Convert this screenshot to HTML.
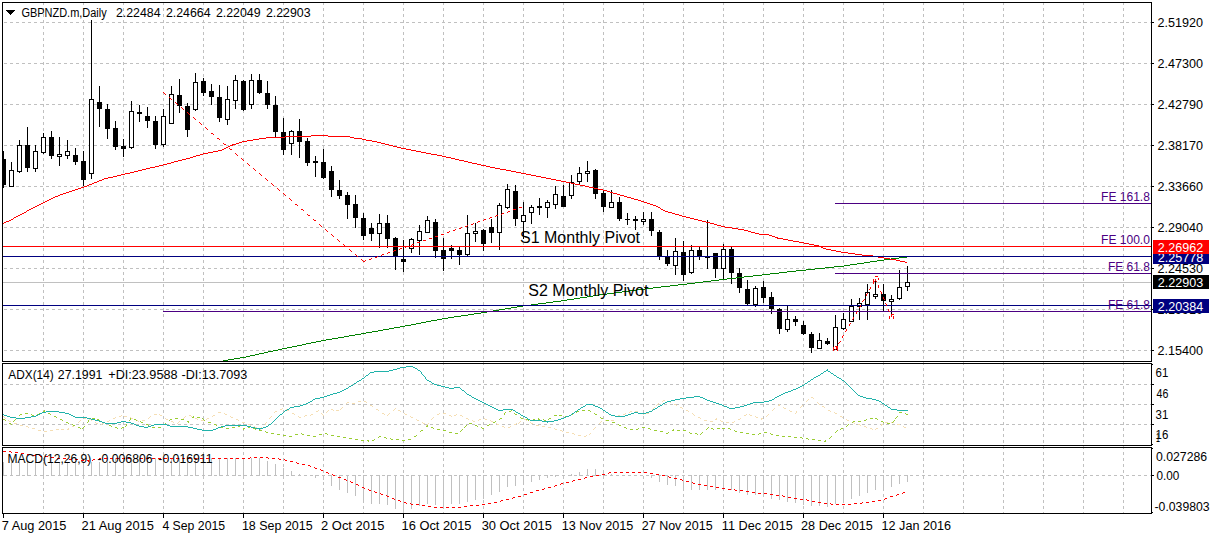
<!DOCTYPE html>
<html><head><meta charset="utf-8"><title>GBPNZD.m Daily</title>
<style>
html,body{margin:0;padding:0;background:#fff;}
body{width:1211px;height:538px;overflow:hidden;}
svg{display:block;font-family:"Liberation Sans",sans-serif;}
</style></head><body>
<svg width="1211" height="538" viewBox="0 0 1211 538" shape-rendering="crispEdges">
<rect x="0" y="0" width="1211" height="538" fill="#fff"/>
<g id="grid">
<line x1="43.5" y1="2" x2="43.5" y2="362" stroke="#c0c0c0" stroke-width="1" stroke-dasharray="3 3"/>
<line x1="43.5" y1="362" x2="43.5" y2="446" stroke="#c0c0c0" stroke-width="1" stroke-dasharray="3 3"/>
<line x1="43.5" y1="446" x2="43.5" y2="513" stroke="#c0c0c0" stroke-width="1" stroke-dasharray="3 3"/>
<line x1="83.5" y1="2" x2="83.5" y2="362" stroke="#c0c0c0" stroke-width="1" stroke-dasharray="3 3"/>
<line x1="83.5" y1="362" x2="83.5" y2="446" stroke="#c0c0c0" stroke-width="1" stroke-dasharray="3 3"/>
<line x1="83.5" y1="446" x2="83.5" y2="513" stroke="#c0c0c0" stroke-width="1" stroke-dasharray="3 3"/>
<line x1="123.5" y1="2" x2="123.5" y2="362" stroke="#c0c0c0" stroke-width="1" stroke-dasharray="3 3"/>
<line x1="123.5" y1="362" x2="123.5" y2="446" stroke="#c0c0c0" stroke-width="1" stroke-dasharray="3 3"/>
<line x1="123.5" y1="446" x2="123.5" y2="513" stroke="#c0c0c0" stroke-width="1" stroke-dasharray="3 3"/>
<line x1="163.5" y1="2" x2="163.5" y2="362" stroke="#c0c0c0" stroke-width="1" stroke-dasharray="3 3"/>
<line x1="163.5" y1="362" x2="163.5" y2="446" stroke="#c0c0c0" stroke-width="1" stroke-dasharray="3 3"/>
<line x1="163.5" y1="446" x2="163.5" y2="513" stroke="#c0c0c0" stroke-width="1" stroke-dasharray="3 3"/>
<line x1="203.5" y1="2" x2="203.5" y2="362" stroke="#c0c0c0" stroke-width="1" stroke-dasharray="3 3"/>
<line x1="203.5" y1="362" x2="203.5" y2="446" stroke="#c0c0c0" stroke-width="1" stroke-dasharray="3 3"/>
<line x1="203.5" y1="446" x2="203.5" y2="513" stroke="#c0c0c0" stroke-width="1" stroke-dasharray="3 3"/>
<line x1="243.5" y1="2" x2="243.5" y2="362" stroke="#c0c0c0" stroke-width="1" stroke-dasharray="3 3"/>
<line x1="243.5" y1="362" x2="243.5" y2="446" stroke="#c0c0c0" stroke-width="1" stroke-dasharray="3 3"/>
<line x1="243.5" y1="446" x2="243.5" y2="513" stroke="#c0c0c0" stroke-width="1" stroke-dasharray="3 3"/>
<line x1="283.5" y1="2" x2="283.5" y2="362" stroke="#c0c0c0" stroke-width="1" stroke-dasharray="3 3"/>
<line x1="283.5" y1="362" x2="283.5" y2="446" stroke="#c0c0c0" stroke-width="1" stroke-dasharray="3 3"/>
<line x1="283.5" y1="446" x2="283.5" y2="513" stroke="#c0c0c0" stroke-width="1" stroke-dasharray="3 3"/>
<line x1="323.5" y1="2" x2="323.5" y2="362" stroke="#c0c0c0" stroke-width="1" stroke-dasharray="3 3"/>
<line x1="323.5" y1="362" x2="323.5" y2="446" stroke="#c0c0c0" stroke-width="1" stroke-dasharray="3 3"/>
<line x1="323.5" y1="446" x2="323.5" y2="513" stroke="#c0c0c0" stroke-width="1" stroke-dasharray="3 3"/>
<line x1="363.5" y1="2" x2="363.5" y2="362" stroke="#c0c0c0" stroke-width="1" stroke-dasharray="3 3"/>
<line x1="363.5" y1="362" x2="363.5" y2="446" stroke="#c0c0c0" stroke-width="1" stroke-dasharray="3 3"/>
<line x1="363.5" y1="446" x2="363.5" y2="513" stroke="#c0c0c0" stroke-width="1" stroke-dasharray="3 3"/>
<line x1="403.5" y1="2" x2="403.5" y2="362" stroke="#c0c0c0" stroke-width="1" stroke-dasharray="3 3"/>
<line x1="403.5" y1="362" x2="403.5" y2="446" stroke="#c0c0c0" stroke-width="1" stroke-dasharray="3 3"/>
<line x1="403.5" y1="446" x2="403.5" y2="513" stroke="#c0c0c0" stroke-width="1" stroke-dasharray="3 3"/>
<line x1="443.5" y1="2" x2="443.5" y2="362" stroke="#c0c0c0" stroke-width="1" stroke-dasharray="3 3"/>
<line x1="443.5" y1="362" x2="443.5" y2="446" stroke="#c0c0c0" stroke-width="1" stroke-dasharray="3 3"/>
<line x1="443.5" y1="446" x2="443.5" y2="513" stroke="#c0c0c0" stroke-width="1" stroke-dasharray="3 3"/>
<line x1="483.5" y1="2" x2="483.5" y2="362" stroke="#c0c0c0" stroke-width="1" stroke-dasharray="3 3"/>
<line x1="483.5" y1="362" x2="483.5" y2="446" stroke="#c0c0c0" stroke-width="1" stroke-dasharray="3 3"/>
<line x1="483.5" y1="446" x2="483.5" y2="513" stroke="#c0c0c0" stroke-width="1" stroke-dasharray="3 3"/>
<line x1="523.5" y1="2" x2="523.5" y2="362" stroke="#c0c0c0" stroke-width="1" stroke-dasharray="3 3"/>
<line x1="523.5" y1="362" x2="523.5" y2="446" stroke="#c0c0c0" stroke-width="1" stroke-dasharray="3 3"/>
<line x1="523.5" y1="446" x2="523.5" y2="513" stroke="#c0c0c0" stroke-width="1" stroke-dasharray="3 3"/>
<line x1="563.5" y1="2" x2="563.5" y2="362" stroke="#c0c0c0" stroke-width="1" stroke-dasharray="3 3"/>
<line x1="563.5" y1="362" x2="563.5" y2="446" stroke="#c0c0c0" stroke-width="1" stroke-dasharray="3 3"/>
<line x1="563.5" y1="446" x2="563.5" y2="513" stroke="#c0c0c0" stroke-width="1" stroke-dasharray="3 3"/>
<line x1="603.5" y1="2" x2="603.5" y2="362" stroke="#c0c0c0" stroke-width="1" stroke-dasharray="3 3"/>
<line x1="603.5" y1="362" x2="603.5" y2="446" stroke="#c0c0c0" stroke-width="1" stroke-dasharray="3 3"/>
<line x1="603.5" y1="446" x2="603.5" y2="513" stroke="#c0c0c0" stroke-width="1" stroke-dasharray="3 3"/>
<line x1="643.5" y1="2" x2="643.5" y2="362" stroke="#c0c0c0" stroke-width="1" stroke-dasharray="3 3"/>
<line x1="643.5" y1="362" x2="643.5" y2="446" stroke="#c0c0c0" stroke-width="1" stroke-dasharray="3 3"/>
<line x1="643.5" y1="446" x2="643.5" y2="513" stroke="#c0c0c0" stroke-width="1" stroke-dasharray="3 3"/>
<line x1="683.5" y1="2" x2="683.5" y2="362" stroke="#c0c0c0" stroke-width="1" stroke-dasharray="3 3"/>
<line x1="683.5" y1="362" x2="683.5" y2="446" stroke="#c0c0c0" stroke-width="1" stroke-dasharray="3 3"/>
<line x1="683.5" y1="446" x2="683.5" y2="513" stroke="#c0c0c0" stroke-width="1" stroke-dasharray="3 3"/>
<line x1="723.5" y1="2" x2="723.5" y2="362" stroke="#c0c0c0" stroke-width="1" stroke-dasharray="3 3"/>
<line x1="723.5" y1="362" x2="723.5" y2="446" stroke="#c0c0c0" stroke-width="1" stroke-dasharray="3 3"/>
<line x1="723.5" y1="446" x2="723.5" y2="513" stroke="#c0c0c0" stroke-width="1" stroke-dasharray="3 3"/>
<line x1="763.5" y1="2" x2="763.5" y2="362" stroke="#c0c0c0" stroke-width="1" stroke-dasharray="3 3"/>
<line x1="763.5" y1="362" x2="763.5" y2="446" stroke="#c0c0c0" stroke-width="1" stroke-dasharray="3 3"/>
<line x1="763.5" y1="446" x2="763.5" y2="513" stroke="#c0c0c0" stroke-width="1" stroke-dasharray="3 3"/>
<line x1="803.5" y1="2" x2="803.5" y2="362" stroke="#c0c0c0" stroke-width="1" stroke-dasharray="3 3"/>
<line x1="803.5" y1="362" x2="803.5" y2="446" stroke="#c0c0c0" stroke-width="1" stroke-dasharray="3 3"/>
<line x1="803.5" y1="446" x2="803.5" y2="513" stroke="#c0c0c0" stroke-width="1" stroke-dasharray="3 3"/>
<line x1="843.5" y1="2" x2="843.5" y2="362" stroke="#c0c0c0" stroke-width="1" stroke-dasharray="3 3"/>
<line x1="843.5" y1="362" x2="843.5" y2="446" stroke="#c0c0c0" stroke-width="1" stroke-dasharray="3 3"/>
<line x1="843.5" y1="446" x2="843.5" y2="513" stroke="#c0c0c0" stroke-width="1" stroke-dasharray="3 3"/>
<line x1="883.5" y1="2" x2="883.5" y2="362" stroke="#c0c0c0" stroke-width="1" stroke-dasharray="3 3"/>
<line x1="883.5" y1="362" x2="883.5" y2="446" stroke="#c0c0c0" stroke-width="1" stroke-dasharray="3 3"/>
<line x1="883.5" y1="446" x2="883.5" y2="513" stroke="#c0c0c0" stroke-width="1" stroke-dasharray="3 3"/>
<line x1="923.5" y1="2" x2="923.5" y2="362" stroke="#c0c0c0" stroke-width="1" stroke-dasharray="3 3"/>
<line x1="923.5" y1="362" x2="923.5" y2="446" stroke="#c0c0c0" stroke-width="1" stroke-dasharray="3 3"/>
<line x1="923.5" y1="446" x2="923.5" y2="513" stroke="#c0c0c0" stroke-width="1" stroke-dasharray="3 3"/>
<line x1="963.5" y1="2" x2="963.5" y2="362" stroke="#c0c0c0" stroke-width="1" stroke-dasharray="3 3"/>
<line x1="963.5" y1="362" x2="963.5" y2="446" stroke="#c0c0c0" stroke-width="1" stroke-dasharray="3 3"/>
<line x1="963.5" y1="446" x2="963.5" y2="513" stroke="#c0c0c0" stroke-width="1" stroke-dasharray="3 3"/>
<line x1="1003.5" y1="2" x2="1003.5" y2="362" stroke="#c0c0c0" stroke-width="1" stroke-dasharray="3 3"/>
<line x1="1003.5" y1="362" x2="1003.5" y2="446" stroke="#c0c0c0" stroke-width="1" stroke-dasharray="3 3"/>
<line x1="1003.5" y1="446" x2="1003.5" y2="513" stroke="#c0c0c0" stroke-width="1" stroke-dasharray="3 3"/>
<line x1="1043.5" y1="2" x2="1043.5" y2="362" stroke="#c0c0c0" stroke-width="1" stroke-dasharray="3 3"/>
<line x1="1043.5" y1="362" x2="1043.5" y2="446" stroke="#c0c0c0" stroke-width="1" stroke-dasharray="3 3"/>
<line x1="1043.5" y1="446" x2="1043.5" y2="513" stroke="#c0c0c0" stroke-width="1" stroke-dasharray="3 3"/>
<line x1="1083.5" y1="2" x2="1083.5" y2="362" stroke="#c0c0c0" stroke-width="1" stroke-dasharray="3 3"/>
<line x1="1083.5" y1="362" x2="1083.5" y2="446" stroke="#c0c0c0" stroke-width="1" stroke-dasharray="3 3"/>
<line x1="1083.5" y1="446" x2="1083.5" y2="513" stroke="#c0c0c0" stroke-width="1" stroke-dasharray="3 3"/>
<line x1="1123.5" y1="2" x2="1123.5" y2="362" stroke="#c0c0c0" stroke-width="1" stroke-dasharray="3 3"/>
<line x1="1123.5" y1="362" x2="1123.5" y2="446" stroke="#c0c0c0" stroke-width="1" stroke-dasharray="3 3"/>
<line x1="1123.5" y1="446" x2="1123.5" y2="513" stroke="#c0c0c0" stroke-width="1" stroke-dasharray="3 3"/>
<line x1="4" y1="22.5" x2="1151" y2="22.5" stroke="#c0c0c0" stroke-width="1" stroke-dasharray="3 3"/>
<line x1="4" y1="63.5" x2="1151" y2="63.5" stroke="#c0c0c0" stroke-width="1" stroke-dasharray="3 3"/>
<line x1="4" y1="104.5" x2="1151" y2="104.5" stroke="#c0c0c0" stroke-width="1" stroke-dasharray="3 3"/>
<line x1="4" y1="145.5" x2="1151" y2="145.5" stroke="#c0c0c0" stroke-width="1" stroke-dasharray="3 3"/>
<line x1="4" y1="186.5" x2="1151" y2="186.5" stroke="#c0c0c0" stroke-width="1" stroke-dasharray="3 3"/>
<line x1="4" y1="227.5" x2="1151" y2="227.5" stroke="#c0c0c0" stroke-width="1" stroke-dasharray="3 3"/>
<line x1="4" y1="268.5" x2="1151" y2="268.5" stroke="#c0c0c0" stroke-width="1" stroke-dasharray="3 3"/>
<line x1="4" y1="309.5" x2="1151" y2="309.5" stroke="#c0c0c0" stroke-width="1" stroke-dasharray="3 3"/>
<line x1="4" y1="350.5" x2="1151" y2="350.5" stroke="#c0c0c0" stroke-width="1" stroke-dasharray="3 3"/>
<line x1="4" y1="384.5" x2="1151" y2="384.5" stroke="#c0c0c0" stroke-width="1" stroke-dasharray="3 3"/>
<line x1="4" y1="404.5" x2="1151" y2="404.5" stroke="#c0c0c0" stroke-width="1" stroke-dasharray="3 3"/>
<line x1="4" y1="424.5" x2="1151" y2="424.5" stroke="#c0c0c0" stroke-width="1" stroke-dasharray="3 3"/>
<line x1="4" y1="475.5" x2="1151" y2="475.5" stroke="#c0c0c0" stroke-width="1" stroke-dasharray="3 3"/>
</g>
<g id="hist">
<rect x="3" y="462" width="1" height="14" fill="#c0c0c0"/>
<rect x="11" y="462" width="1" height="14" fill="#c0c0c0"/>
<rect x="19" y="462" width="1" height="14" fill="#c0c0c0"/>
<rect x="27" y="462" width="1" height="14" fill="#c0c0c0"/>
<rect x="35" y="462" width="1" height="14" fill="#c0c0c0"/>
<rect x="43" y="462" width="1" height="14" fill="#c0c0c0"/>
<rect x="51" y="462" width="1" height="14" fill="#c0c0c0"/>
<rect x="59" y="462" width="1" height="14" fill="#c0c0c0"/>
<rect x="67" y="462" width="1" height="14" fill="#c0c0c0"/>
<rect x="75" y="462" width="1" height="14" fill="#c0c0c0"/>
<rect x="83" y="462" width="1" height="14" fill="#c0c0c0"/>
<rect x="91" y="462" width="1" height="14" fill="#c0c0c0"/>
<rect x="99" y="462" width="1" height="14" fill="#c0c0c0"/>
<rect x="107" y="462" width="1" height="14" fill="#c0c0c0"/>
<rect x="115" y="458" width="1" height="18" fill="#c0c0c0"/>
<rect x="123" y="458" width="1" height="18" fill="#c0c0c0"/>
<rect x="131" y="458" width="1" height="18" fill="#c0c0c0"/>
<rect x="139" y="458" width="1" height="18" fill="#c0c0c0"/>
<rect x="147" y="458" width="1" height="18" fill="#c0c0c0"/>
<rect x="155" y="458" width="1" height="18" fill="#c0c0c0"/>
<rect x="163" y="458" width="1" height="18" fill="#c0c0c0"/>
<rect x="171" y="458" width="1" height="18" fill="#c0c0c0"/>
<rect x="179" y="458" width="1" height="18" fill="#c0c0c0"/>
<rect x="187" y="458" width="1" height="18" fill="#c0c0c0"/>
<rect x="195" y="458" width="1" height="18" fill="#c0c0c0"/>
<rect x="203" y="458" width="1" height="18" fill="#c0c0c0"/>
<rect x="211" y="458" width="1" height="18" fill="#c0c0c0"/>
<rect x="219" y="458" width="1" height="18" fill="#c0c0c0"/>
<rect x="227" y="458" width="1" height="18" fill="#c0c0c0"/>
<rect x="235" y="458" width="1" height="18" fill="#c0c0c0"/>
<rect x="243" y="458" width="1" height="18" fill="#c0c0c0"/>
<rect x="251" y="458" width="1" height="18" fill="#c0c0c0"/>
<rect x="259" y="458" width="1" height="18" fill="#c0c0c0"/>
<rect x="267" y="461" width="1" height="15" fill="#c0c0c0"/>
<rect x="275" y="464" width="1" height="12" fill="#c0c0c0"/>
<rect x="283" y="468" width="1" height="8" fill="#c0c0c0"/>
<rect x="291" y="471" width="1" height="5" fill="#c0c0c0"/>
<rect x="299" y="474" width="1" height="2" fill="#c0c0c0"/>
<rect x="315" y="475" width="1" height="3" fill="#c0c0c0"/>
<rect x="323" y="475" width="1" height="5" fill="#c0c0c0"/>
<rect x="331" y="475" width="1" height="11" fill="#c0c0c0"/>
<rect x="339" y="475" width="1" height="15" fill="#c0c0c0"/>
<rect x="347" y="475" width="1" height="18" fill="#c0c0c0"/>
<rect x="355" y="475" width="1" height="21" fill="#c0c0c0"/>
<rect x="363" y="475" width="1" height="27" fill="#c0c0c0"/>
<rect x="371" y="475" width="1" height="29" fill="#c0c0c0"/>
<rect x="379" y="475" width="1" height="29" fill="#c0c0c0"/>
<rect x="387" y="475" width="1" height="30" fill="#c0c0c0"/>
<rect x="395" y="475" width="1" height="34" fill="#c0c0c0"/>
<rect x="403" y="475" width="1" height="37" fill="#c0c0c0"/>
<rect x="411" y="475" width="1" height="34" fill="#c0c0c0"/>
<rect x="419" y="475" width="1" height="31" fill="#c0c0c0"/>
<rect x="427" y="475" width="1" height="29" fill="#c0c0c0"/>
<rect x="435" y="475" width="1" height="30" fill="#c0c0c0"/>
<rect x="443" y="475" width="1" height="33" fill="#c0c0c0"/>
<rect x="451" y="475" width="1" height="29" fill="#c0c0c0"/>
<rect x="459" y="475" width="1" height="29" fill="#c0c0c0"/>
<rect x="467" y="475" width="1" height="27" fill="#c0c0c0"/>
<rect x="475" y="475" width="1" height="25" fill="#c0c0c0"/>
<rect x="483" y="475" width="1" height="24" fill="#c0c0c0"/>
<rect x="491" y="475" width="1" height="20" fill="#c0c0c0"/>
<rect x="499" y="475" width="1" height="17" fill="#c0c0c0"/>
<rect x="507" y="475" width="1" height="12" fill="#c0c0c0"/>
<rect x="515" y="475" width="1" height="11" fill="#c0c0c0"/>
<rect x="523" y="475" width="1" height="10" fill="#c0c0c0"/>
<rect x="531" y="475" width="1" height="7" fill="#c0c0c0"/>
<rect x="539" y="475" width="1" height="5" fill="#c0c0c0"/>
<rect x="547" y="475" width="1" height="3" fill="#c0c0c0"/>
<rect x="555" y="475" width="1" height="2" fill="#c0c0c0"/>
<rect x="571" y="474" width="1" height="2" fill="#c0c0c0"/>
<rect x="579" y="472" width="1" height="4" fill="#c0c0c0"/>
<rect x="587" y="469" width="1" height="7" fill="#c0c0c0"/>
<rect x="595" y="469" width="1" height="7" fill="#c0c0c0"/>
<rect x="603" y="473" width="1" height="3" fill="#c0c0c0"/>
<rect x="611" y="474" width="1" height="2" fill="#c0c0c0"/>
<rect x="651" y="475" width="1" height="3" fill="#c0c0c0"/>
<rect x="659" y="475" width="1" height="7" fill="#c0c0c0"/>
<rect x="667" y="475" width="1" height="10" fill="#c0c0c0"/>
<rect x="675" y="475" width="1" height="11" fill="#c0c0c0"/>
<rect x="683" y="475" width="1" height="15" fill="#c0c0c0"/>
<rect x="691" y="475" width="1" height="15" fill="#c0c0c0"/>
<rect x="699" y="475" width="1" height="15" fill="#c0c0c0"/>
<rect x="707" y="475" width="1" height="15" fill="#c0c0c0"/>
<rect x="715" y="475" width="1" height="15" fill="#c0c0c0"/>
<rect x="723" y="475" width="1" height="15" fill="#c0c0c0"/>
<rect x="731" y="475" width="1" height="15" fill="#c0c0c0"/>
<rect x="739" y="475" width="1" height="18" fill="#c0c0c0"/>
<rect x="747" y="475" width="1" height="20" fill="#c0c0c0"/>
<rect x="755" y="475" width="1" height="20" fill="#c0c0c0"/>
<rect x="763" y="475" width="1" height="21" fill="#c0c0c0"/>
<rect x="771" y="475" width="1" height="24" fill="#c0c0c0"/>
<rect x="779" y="475" width="1" height="25" fill="#c0c0c0"/>
<rect x="787" y="475" width="1" height="27" fill="#c0c0c0"/>
<rect x="795" y="475" width="1" height="28" fill="#c0c0c0"/>
<rect x="803" y="475" width="1" height="30" fill="#c0c0c0"/>
<rect x="811" y="475" width="1" height="31" fill="#c0c0c0"/>
<rect x="819" y="475" width="1" height="31" fill="#c0c0c0"/>
<rect x="827" y="475" width="1" height="32" fill="#c0c0c0"/>
<rect x="835" y="475" width="1" height="29" fill="#c0c0c0"/>
<rect x="843" y="475" width="1" height="27" fill="#c0c0c0"/>
<rect x="851" y="475" width="1" height="24" fill="#c0c0c0"/>
<rect x="859" y="475" width="1" height="21" fill="#c0c0c0"/>
<rect x="867" y="475" width="1" height="18" fill="#c0c0c0"/>
<rect x="875" y="475" width="1" height="15" fill="#c0c0c0"/>
<rect x="883" y="475" width="1" height="15" fill="#c0c0c0"/>
<rect x="891" y="475" width="1" height="12" fill="#c0c0c0"/>
<rect x="899" y="475" width="1" height="9" fill="#c0c0c0"/>
<rect x="907" y="475" width="1" height="7" fill="#c0c0c0"/>
</g>
<rect x="3" y="282" width="1148" height="1" fill="#c0c0c0"/>
<g id="candles">
<rect x="3" y="151" width="1" height="37" fill="#000"/>
<rect x="1" y="159" width="5" height="26" fill="#000"/>
<rect x="11" y="162" width="1" height="25" fill="#000"/>
<rect x="9" y="170" width="5" height="17" fill="#000"/>
<rect x="10" y="171" width="3" height="15" fill="#fff"/>
<rect x="19" y="140" width="1" height="33" fill="#000"/>
<rect x="17" y="145" width="5" height="27" fill="#000"/>
<rect x="18" y="146" width="3" height="25" fill="#fff"/>
<rect x="27" y="127" width="1" height="45" fill="#000"/>
<rect x="25" y="145" width="5" height="23" fill="#000"/>
<rect x="35" y="145" width="1" height="27" fill="#000"/>
<rect x="33" y="151" width="5" height="18" fill="#000"/>
<rect x="34" y="152" width="3" height="16" fill="#fff"/>
<rect x="43" y="133" width="1" height="21" fill="#000"/>
<rect x="41" y="137" width="5" height="16" fill="#000"/>
<rect x="42" y="138" width="3" height="14" fill="#fff"/>
<rect x="51" y="131" width="1" height="28" fill="#000"/>
<rect x="49" y="137" width="5" height="19" fill="#000"/>
<rect x="59" y="137" width="1" height="29" fill="#000"/>
<rect x="57" y="154" width="5" height="3" fill="#000"/>
<rect x="58" y="155" width="3" height="1" fill="#fff"/>
<rect x="67" y="140" width="1" height="19" fill="#000"/>
<rect x="65" y="151" width="5" height="5" fill="#000"/>
<rect x="66" y="152" width="3" height="3" fill="#fff"/>
<rect x="75" y="148" width="1" height="17" fill="#000"/>
<rect x="73" y="155" width="5" height="7" fill="#000"/>
<rect x="83" y="151" width="1" height="35" fill="#000"/>
<rect x="81" y="161" width="5" height="19" fill="#000"/>
<rect x="91" y="20" width="1" height="159" fill="#000"/>
<rect x="89" y="99" width="5" height="75" fill="#000"/>
<rect x="90" y="100" width="3" height="73" fill="#fff"/>
<rect x="99" y="86" width="1" height="41" fill="#000"/>
<rect x="97" y="102" width="5" height="7" fill="#000"/>
<rect x="107" y="104" width="1" height="35" fill="#000"/>
<rect x="105" y="109" width="5" height="20" fill="#000"/>
<rect x="115" y="121" width="1" height="29" fill="#000"/>
<rect x="113" y="128" width="5" height="19" fill="#000"/>
<rect x="123" y="139" width="1" height="18" fill="#000"/>
<rect x="121" y="146" width="5" height="3" fill="#000"/>
<rect x="131" y="101" width="1" height="48" fill="#000"/>
<rect x="129" y="111" width="5" height="37" fill="#000"/>
<rect x="130" y="112" width="3" height="35" fill="#fff"/>
<rect x="139" y="105" width="1" height="17" fill="#000"/>
<rect x="137" y="112" width="5" height="2" fill="#000"/>
<rect x="147" y="107" width="1" height="21" fill="#000"/>
<rect x="145" y="116" width="5" height="5" fill="#000"/>
<rect x="155" y="116" width="1" height="33" fill="#000"/>
<rect x="153" y="121" width="5" height="24" fill="#000"/>
<rect x="163" y="109" width="1" height="38" fill="#000"/>
<rect x="161" y="116" width="5" height="29" fill="#000"/>
<rect x="162" y="117" width="3" height="27" fill="#fff"/>
<rect x="171" y="86" width="1" height="38" fill="#000"/>
<rect x="169" y="94" width="5" height="30" fill="#000"/>
<rect x="170" y="95" width="3" height="28" fill="#fff"/>
<rect x="179" y="79" width="1" height="34" fill="#000"/>
<rect x="177" y="95" width="5" height="11" fill="#000"/>
<rect x="187" y="103" width="1" height="34" fill="#000"/>
<rect x="185" y="106" width="5" height="24" fill="#000"/>
<rect x="195" y="73" width="1" height="38" fill="#000"/>
<rect x="193" y="82" width="5" height="28" fill="#000"/>
<rect x="194" y="83" width="3" height="26" fill="#fff"/>
<rect x="203" y="78" width="1" height="18" fill="#000"/>
<rect x="201" y="81" width="5" height="12" fill="#000"/>
<rect x="211" y="84" width="1" height="21" fill="#000"/>
<rect x="209" y="91" width="5" height="6" fill="#000"/>
<rect x="219" y="85" width="1" height="37" fill="#000"/>
<rect x="217" y="97" width="5" height="21" fill="#000"/>
<rect x="227" y="86" width="1" height="39" fill="#000"/>
<rect x="225" y="99" width="5" height="21" fill="#000"/>
<rect x="226" y="100" width="3" height="19" fill="#fff"/>
<rect x="235" y="75" width="1" height="34" fill="#000"/>
<rect x="233" y="80" width="5" height="21" fill="#000"/>
<rect x="234" y="81" width="3" height="19" fill="#fff"/>
<rect x="243" y="80" width="1" height="31" fill="#000"/>
<rect x="241" y="81" width="5" height="29" fill="#000"/>
<rect x="251" y="74" width="1" height="35" fill="#000"/>
<rect x="249" y="80" width="5" height="25" fill="#000"/>
<rect x="250" y="81" width="3" height="23" fill="#fff"/>
<rect x="259" y="74" width="1" height="20" fill="#000"/>
<rect x="257" y="80" width="5" height="13" fill="#000"/>
<rect x="267" y="81" width="1" height="28" fill="#000"/>
<rect x="265" y="93" width="5" height="12" fill="#000"/>
<rect x="275" y="96" width="1" height="41" fill="#000"/>
<rect x="273" y="105" width="5" height="27" fill="#000"/>
<rect x="283" y="118" width="1" height="37" fill="#000"/>
<rect x="281" y="132" width="5" height="18" fill="#000"/>
<rect x="291" y="130" width="1" height="25" fill="#000"/>
<rect x="289" y="131" width="5" height="13" fill="#000"/>
<rect x="290" y="132" width="3" height="11" fill="#fff"/>
<rect x="299" y="119" width="1" height="39" fill="#000"/>
<rect x="297" y="131" width="5" height="11" fill="#000"/>
<rect x="307" y="138" width="1" height="28" fill="#000"/>
<rect x="305" y="141" width="5" height="22" fill="#000"/>
<rect x="315" y="156" width="1" height="21" fill="#000"/>
<rect x="313" y="161" width="5" height="2" fill="#000"/>
<rect x="323" y="149" width="1" height="30" fill="#000"/>
<rect x="321" y="162" width="5" height="16" fill="#000"/>
<rect x="331" y="166" width="1" height="31" fill="#000"/>
<rect x="329" y="171" width="5" height="19" fill="#000"/>
<rect x="339" y="180" width="1" height="19" fill="#000"/>
<rect x="337" y="190" width="5" height="6" fill="#000"/>
<rect x="347" y="192" width="1" height="27" fill="#000"/>
<rect x="345" y="195" width="5" height="10" fill="#000"/>
<rect x="355" y="195" width="1" height="33" fill="#000"/>
<rect x="353" y="204" width="5" height="14" fill="#000"/>
<rect x="363" y="213" width="1" height="27" fill="#000"/>
<rect x="361" y="218" width="5" height="18" fill="#000"/>
<rect x="371" y="223" width="1" height="18" fill="#000"/>
<rect x="369" y="228" width="5" height="6" fill="#000"/>
<rect x="379" y="214" width="1" height="34" fill="#000"/>
<rect x="377" y="223" width="5" height="11" fill="#000"/>
<rect x="378" y="224" width="3" height="9" fill="#fff"/>
<rect x="387" y="215" width="1" height="33" fill="#000"/>
<rect x="385" y="223" width="5" height="16" fill="#000"/>
<rect x="395" y="237" width="1" height="33" fill="#000"/>
<rect x="393" y="238" width="5" height="18" fill="#000"/>
<rect x="403" y="240" width="1" height="32" fill="#000"/>
<rect x="401" y="259" width="5" height="3" fill="#000"/>
<rect x="411" y="238" width="1" height="15" fill="#000"/>
<rect x="409" y="239" width="5" height="10" fill="#000"/>
<rect x="410" y="240" width="3" height="8" fill="#fff"/>
<rect x="419" y="225" width="1" height="30" fill="#000"/>
<rect x="417" y="231" width="5" height="10" fill="#000"/>
<rect x="418" y="232" width="3" height="8" fill="#fff"/>
<rect x="427" y="216" width="1" height="17" fill="#000"/>
<rect x="425" y="220" width="5" height="13" fill="#000"/>
<rect x="426" y="221" width="3" height="11" fill="#fff"/>
<rect x="435" y="219" width="1" height="39" fill="#000"/>
<rect x="433" y="222" width="5" height="29" fill="#000"/>
<rect x="443" y="238" width="1" height="33" fill="#000"/>
<rect x="441" y="250" width="5" height="9" fill="#000"/>
<rect x="451" y="245" width="1" height="14" fill="#000"/>
<rect x="449" y="248" width="5" height="3" fill="#000"/>
<rect x="459" y="247" width="1" height="18" fill="#000"/>
<rect x="457" y="250" width="5" height="5" fill="#000"/>
<rect x="467" y="215" width="1" height="41" fill="#000"/>
<rect x="465" y="233" width="5" height="22" fill="#000"/>
<rect x="466" y="234" width="3" height="20" fill="#fff"/>
<rect x="475" y="223" width="1" height="19" fill="#000"/>
<rect x="473" y="231" width="5" height="3" fill="#000"/>
<rect x="474" y="232" width="3" height="1" fill="#fff"/>
<rect x="483" y="229" width="1" height="22" fill="#000"/>
<rect x="481" y="230" width="5" height="14" fill="#000"/>
<rect x="491" y="219" width="1" height="24" fill="#000"/>
<rect x="489" y="227" width="5" height="6" fill="#000"/>
<rect x="499" y="203" width="1" height="47" fill="#000"/>
<rect x="497" y="205" width="5" height="28" fill="#000"/>
<rect x="498" y="206" width="3" height="26" fill="#fff"/>
<rect x="507" y="184" width="1" height="25" fill="#000"/>
<rect x="505" y="189" width="5" height="19" fill="#000"/>
<rect x="506" y="190" width="3" height="17" fill="#fff"/>
<rect x="515" y="185" width="1" height="41" fill="#000"/>
<rect x="513" y="191" width="5" height="28" fill="#000"/>
<rect x="523" y="202" width="1" height="37" fill="#000"/>
<rect x="521" y="215" width="5" height="7" fill="#000"/>
<rect x="522" y="216" width="3" height="5" fill="#fff"/>
<rect x="531" y="205" width="1" height="19" fill="#000"/>
<rect x="529" y="207" width="5" height="6" fill="#000"/>
<rect x="530" y="208" width="3" height="4" fill="#fff"/>
<rect x="539" y="198" width="1" height="17" fill="#000"/>
<rect x="537" y="206" width="5" height="2" fill="#000"/>
<rect x="547" y="200" width="1" height="18" fill="#000"/>
<rect x="545" y="202" width="5" height="6" fill="#000"/>
<rect x="546" y="203" width="3" height="4" fill="#fff"/>
<rect x="555" y="186" width="1" height="23" fill="#000"/>
<rect x="553" y="194" width="5" height="11" fill="#000"/>
<rect x="554" y="195" width="3" height="9" fill="#fff"/>
<rect x="563" y="185" width="1" height="22" fill="#000"/>
<rect x="561" y="196" width="5" height="11" fill="#000"/>
<rect x="571" y="175" width="1" height="24" fill="#000"/>
<rect x="569" y="182" width="5" height="14" fill="#000"/>
<rect x="570" y="183" width="3" height="12" fill="#fff"/>
<rect x="579" y="167" width="1" height="17" fill="#000"/>
<rect x="577" y="173" width="5" height="9" fill="#000"/>
<rect x="578" y="174" width="3" height="7" fill="#fff"/>
<rect x="587" y="161" width="1" height="21" fill="#000"/>
<rect x="585" y="171" width="5" height="3" fill="#000"/>
<rect x="586" y="172" width="3" height="1" fill="#fff"/>
<rect x="595" y="169" width="1" height="30" fill="#000"/>
<rect x="593" y="170" width="5" height="24" fill="#000"/>
<rect x="603" y="190" width="1" height="22" fill="#000"/>
<rect x="601" y="193" width="5" height="14" fill="#000"/>
<rect x="611" y="190" width="1" height="18" fill="#000"/>
<rect x="609" y="202" width="5" height="6" fill="#000"/>
<rect x="610" y="203" width="3" height="4" fill="#fff"/>
<rect x="619" y="197" width="1" height="24" fill="#000"/>
<rect x="617" y="202" width="5" height="17" fill="#000"/>
<rect x="627" y="213" width="1" height="12" fill="#000"/>
<rect x="625" y="219" width="5" height="1" fill="#000"/>
<rect x="635" y="216" width="1" height="14" fill="#000"/>
<rect x="633" y="219" width="5" height="2" fill="#000"/>
<rect x="643" y="212" width="1" height="13" fill="#000"/>
<rect x="641" y="219" width="5" height="3" fill="#000"/>
<rect x="642" y="220" width="3" height="1" fill="#fff"/>
<rect x="651" y="212" width="1" height="24" fill="#000"/>
<rect x="649" y="219" width="5" height="12" fill="#000"/>
<rect x="659" y="230" width="1" height="30" fill="#000"/>
<rect x="657" y="232" width="5" height="24" fill="#000"/>
<rect x="667" y="250" width="1" height="16" fill="#000"/>
<rect x="665" y="256" width="5" height="8" fill="#000"/>
<rect x="675" y="238" width="1" height="37" fill="#000"/>
<rect x="673" y="251" width="5" height="15" fill="#000"/>
<rect x="674" y="252" width="3" height="13" fill="#fff"/>
<rect x="683" y="241" width="1" height="40" fill="#000"/>
<rect x="681" y="252" width="5" height="23" fill="#000"/>
<rect x="691" y="245" width="1" height="29" fill="#000"/>
<rect x="689" y="250" width="5" height="23" fill="#000"/>
<rect x="690" y="251" width="3" height="21" fill="#fff"/>
<rect x="699" y="247" width="1" height="13" fill="#000"/>
<rect x="697" y="250" width="5" height="6" fill="#000"/>
<rect x="707" y="220" width="1" height="49" fill="#000"/>
<rect x="705" y="257" width="5" height="1" fill="#000"/>
<rect x="715" y="253" width="1" height="25" fill="#000"/>
<rect x="713" y="253" width="5" height="16" fill="#000"/>
<rect x="723" y="244" width="1" height="35" fill="#000"/>
<rect x="721" y="249" width="5" height="20" fill="#000"/>
<rect x="722" y="250" width="3" height="18" fill="#fff"/>
<rect x="731" y="247" width="1" height="37" fill="#000"/>
<rect x="729" y="249" width="5" height="24" fill="#000"/>
<rect x="739" y="268" width="1" height="25" fill="#000"/>
<rect x="737" y="273" width="5" height="15" fill="#000"/>
<rect x="747" y="280" width="1" height="25" fill="#000"/>
<rect x="745" y="289" width="5" height="15" fill="#000"/>
<rect x="755" y="286" width="1" height="21" fill="#000"/>
<rect x="753" y="288" width="5" height="17" fill="#000"/>
<rect x="754" y="289" width="3" height="15" fill="#fff"/>
<rect x="763" y="281" width="1" height="22" fill="#000"/>
<rect x="761" y="287" width="5" height="11" fill="#000"/>
<rect x="771" y="292" width="1" height="22" fill="#000"/>
<rect x="769" y="297" width="5" height="12" fill="#000"/>
<rect x="779" y="308" width="1" height="26" fill="#000"/>
<rect x="777" y="309" width="5" height="20" fill="#000"/>
<rect x="787" y="306" width="1" height="26" fill="#000"/>
<rect x="785" y="319" width="5" height="11" fill="#000"/>
<rect x="786" y="320" width="3" height="9" fill="#fff"/>
<rect x="795" y="316" width="1" height="10" fill="#000"/>
<rect x="793" y="319" width="5" height="3" fill="#000"/>
<rect x="803" y="321" width="1" height="14" fill="#000"/>
<rect x="801" y="325" width="5" height="9" fill="#000"/>
<rect x="811" y="332" width="1" height="21" fill="#000"/>
<rect x="809" y="334" width="5" height="14" fill="#000"/>
<rect x="819" y="333" width="1" height="16" fill="#000"/>
<rect x="817" y="340" width="5" height="9" fill="#000"/>
<rect x="818" y="341" width="3" height="7" fill="#fff"/>
<rect x="827" y="338" width="1" height="7" fill="#000"/>
<rect x="825" y="341" width="5" height="3" fill="#000"/>
<rect x="835" y="315" width="1" height="35" fill="#000"/>
<rect x="833" y="327" width="5" height="23" fill="#000"/>
<rect x="834" y="328" width="3" height="21" fill="#fff"/>
<rect x="843" y="313" width="1" height="17" fill="#000"/>
<rect x="841" y="319" width="5" height="10" fill="#000"/>
<rect x="842" y="320" width="3" height="8" fill="#fff"/>
<rect x="851" y="299" width="1" height="23" fill="#000"/>
<rect x="849" y="306" width="5" height="16" fill="#000"/>
<rect x="850" y="307" width="3" height="14" fill="#fff"/>
<rect x="859" y="298" width="1" height="22" fill="#000"/>
<rect x="857" y="303" width="5" height="4" fill="#000"/>
<rect x="858" y="304" width="3" height="2" fill="#fff"/>
<rect x="867" y="284" width="1" height="36" fill="#000"/>
<rect x="865" y="292" width="5" height="13" fill="#000"/>
<rect x="866" y="293" width="3" height="11" fill="#fff"/>
<rect x="875" y="279" width="1" height="20" fill="#000"/>
<rect x="873" y="294" width="5" height="3" fill="#000"/>
<rect x="874" y="295" width="3" height="1" fill="#fff"/>
<rect x="883" y="284" width="1" height="27" fill="#000"/>
<rect x="881" y="294" width="5" height="7" fill="#000"/>
<rect x="891" y="295" width="1" height="20" fill="#000"/>
<rect x="889" y="299" width="5" height="3" fill="#000"/>
<rect x="890" y="300" width="3" height="1" fill="#fff"/>
<rect x="899" y="270" width="1" height="30" fill="#000"/>
<rect x="897" y="287" width="5" height="12" fill="#000"/>
<rect x="898" y="288" width="3" height="10" fill="#fff"/>
<rect x="907" y="266" width="1" height="25" fill="#000"/>
<rect x="905" y="282" width="5" height="5" fill="#000"/>
<rect x="906" y="283" width="3" height="3" fill="#fff"/>
</g>
<path d="M907 256h1v1h-1zM899 257h8v1h-8zM891 258h8v1h-8zM884 259h7v1h-7zM877 260h7v1h-7zM870 261h7v1h-7zM864 262h6v1h-6zM857 263h7v1h-7zM850 264h7v1h-7zM844 265h6v1h-6zM834 266h10v1h-10zM825 267h9v1h-9zM815 268h10v1h-10zM806 269h9v1h-9zM796 270h10v1h-10zM787 271h9v1h-9zM779 272h8v1h-8zM770 273h9v1h-9zM762 274h8v1h-8zM753 275h9v1h-9zM744 276h9v1h-9zM736 277h8v1h-8zM727 278h9v1h-9zM719 279h8v1h-8zM711 280h8v1h-8zM703 281h8v1h-8zM695 282h8v1h-8zM687 283h8v1h-8zM678 284h9v1h-9zM670 285h8v1h-8zM661 286h9v1h-9zM653 287h8v1h-8zM645 288h8v1h-8zM637 289h8v1h-8zM629 290h8v1h-8zM622 291h7v1h-7zM614 292h8v1h-8zM607 293h7v1h-7zM599 294h8v1h-8zM593 295h6v1h-6zM587 296h6v1h-6zM580 297h7v1h-7zM574 298h6v1h-6zM567 299h7v1h-7zM561 300h6v1h-6zM553 301h8v1h-8zM546 302h7v1h-7zM538 303h8v1h-8zM531 304h7v1h-7zM523 305h8v1h-8zM517 306h6v1h-6zM511 307h6v1h-6zM505 308h6v1h-6zM499 309h6v1h-6zM493 310h6v1h-6zM487 311h6v1h-6zM481 312h6v1h-6zM474 313h7v1h-7zM468 314h6v1h-6zM461 315h7v1h-7zM454 316h7v1h-7zM448 317h6v1h-6zM442 318h6v1h-6zM437 319h5v1h-5zM431 320h6v1h-6zM426 321h5v1h-5zM421 322h5v1h-5zM416 323h5v1h-5zM411 324h5v1h-5zM405 325h6v1h-6zM400 326h5v1h-5zM394 327h6v1h-6zM389 328h5v1h-5zM383 329h6v1h-6zM378 330h5v1h-5zM372 331h6v1h-6zM366 332h6v1h-6zM361 333h5v1h-5zM355 334h6v1h-6zM349 335h6v1h-6zM344 336h5v1h-5zM338 337h6v1h-6zM332 338h6v1h-6zM326 339h6v1h-6zM321 340h5v1h-5zM316 341h5v1h-5zM311 342h5v1h-5zM306 343h5v1h-5zM302 344h4v1h-4zM297 345h5v1h-5zM292 346h5v1h-5zM287 347h5v1h-5zM282 348h5v1h-5zM278 349h4v1h-4zM273 350h5v1h-5zM268 351h5v1h-5zM264 352h4v1h-4zM259 353h5v1h-5zM255 354h4v1h-4zM250 355h5v1h-5zM246 356h4v1h-4zM240 357h6v1h-6zM234 358h6v1h-6zM228 359h6v1h-6zM223 360h5v1h-5z" fill="#008000"/>
<path d="M311 135h17v1h-17zM285 136h26v1h-26zM328 136h22v1h-22zM266 137h19v1h-19zM350 137h4v1h-4zM259 138h7v1h-7zM354 138h8v1h-8zM253 139h6v1h-6zM362 139h4v1h-4zM247 140h6v1h-6zM366 140h6v1h-6zM242 141h5v1h-5zM372 141h5v1h-5zM239 142h3v1h-3zM377 142h4v1h-4zM236 143h3v1h-3zM381 143h4v1h-4zM232 144h4v1h-4zM385 144h4v1h-4zM230 145h3v1h-3zM389 145h4v1h-4zM228 146h2v1h-2zM393 146h4v1h-4zM226 147h2v1h-2zM397 147h4v1h-4zM224 148h2v1h-2zM401 148h5v1h-5zM222 149h2v1h-2zM406 149h5v1h-5zM218 150h4v1h-4zM411 150h5v1h-5zM213 151h5v1h-5zM416 151h5v1h-5zM208 152h5v1h-5zM421 152h5v1h-5zM203 153h5v1h-5zM426 153h5v1h-5zM200 154h3v1h-3zM431 154h6v1h-6zM196 155h4v1h-4zM437 155h5v1h-5zM193 156h3v1h-3zM442 156h4v1h-4zM190 157h3v1h-3zM446 157h5v1h-5zM186 158h4v1h-4zM451 158h4v1h-4zM182 159h4v1h-4zM455 159h4v1h-4zM178 160h4v1h-4zM459 160h5v1h-5zM174 161h4v1h-4zM464 161h4v1h-4zM171 162h3v1h-3zM468 162h4v1h-4zM167 163h4v1h-4zM472 163h5v1h-5zM163 164h4v1h-4zM477 164h4v1h-4zM159 165h4v1h-4zM481 165h5v1h-5zM155 166h4v1h-4zM486 166h4v1h-4zM150 167h5v1h-5zM490 167h5v1h-5zM146 168h4v1h-4zM495 168h5v1h-5zM142 169h4v1h-4zM500 169h6v1h-6zM138 170h4v1h-4zM506 170h5v1h-5zM134 171h4v1h-4zM511 171h5v1h-5zM130 172h4v1h-4zM516 172h5v1h-5zM125 173h5v1h-5zM521 173h5v1h-5zM121 174h4v1h-4zM526 174h5v1h-5zM117 175h4v1h-4zM531 175h5v1h-5zM113 176h4v1h-4zM536 176h5v1h-5zM108 177h5v1h-5zM541 177h5v1h-5zM104 178h4v1h-4zM546 178h5v1h-5zM102 179h2v1h-2zM551 179h5v1h-5zM99 180h3v1h-3zM556 180h5v1h-5zM97 181h2v1h-2zM561 181h5v1h-5zM94 182h3v1h-3zM566 182h5v1h-5zM92 183h2v1h-2zM571 183h4v1h-4zM89 184h3v1h-3zM575 184h5v1h-5zM87 185h2v1h-2zM580 185h5v1h-5zM84 186h3v1h-3zM585 186h4v1h-4zM81 187h3v1h-3zM589 187h5v1h-5zM78 188h3v1h-3zM594 188h4v1h-4zM75 189h3v1h-3zM598 189h5v1h-5zM72 190h3v1h-3zM603 190h4v1h-4zM69 191h3v1h-3zM607 191h3v1h-3zM66 192h3v1h-3zM610 192h3v1h-3zM63 193h3v1h-3zM613 193h4v1h-4zM60 194h3v1h-3zM617 194h3v1h-3zM58 195h2v1h-2zM620 195h4v1h-4zM55 196h3v1h-3zM624 196h3v1h-3zM53 197h2v1h-2zM627 197h4v1h-4zM51 198h2v1h-2zM631 198h3v1h-3zM49 199h2v1h-2zM634 199h4v1h-4zM47 200h2v1h-2zM638 200h3v1h-3zM45 201h2v1h-2zM641 201h3v1h-3zM43 202h2v1h-2zM644 202h3v1h-3zM41 203h2v1h-2zM647 203h3v1h-3zM39 204h2v1h-2zM650 204h3v1h-3zM37 205h2v1h-2zM653 205h3v1h-3zM35 206h2v1h-2zM656 206h2v1h-2zM33 207h2v1h-2zM658 207h2v1h-2zM31 208h2v1h-2zM660 208h1v1h-1zM29 209h2v1h-2zM661 209h2v1h-2zM27 210h2v1h-2zM663 210h2v1h-2zM26 211h1v1h-1zM665 211h3v1h-3zM24 212h2v1h-2zM668 212h4v1h-4zM22 213h2v1h-2zM672 213h3v1h-3zM20 214h2v1h-2zM675 214h4v1h-4zM18 215h2v1h-2zM679 215h3v1h-3zM16 216h2v1h-2zM682 216h4v1h-4zM14 217h2v1h-2zM686 217h4v1h-4zM13 218h1v1h-1zM690 218h4v1h-4zM11 219h2v1h-2zM694 219h4v1h-4zM9 220h2v1h-2zM698 220h4v1h-4zM6 221h3v1h-3zM702 221h4v1h-4zM4 222h2v1h-2zM706 222h4v1h-4zM3 223h1v1h-1zM710 223h4v1h-4zM714 224h3v1h-3zM717 225h4v1h-4zM721 226h4v1h-4zM725 227h7v1h-7zM732 228h6v1h-6zM738 229h6v1h-6zM744 230h4v1h-4zM748 231h3v1h-3zM751 232h4v1h-4zM755 233h4v1h-4zM759 234h10v1h-10zM769 235h3v1h-3zM772 236h3v1h-3zM775 237h3v1h-3zM777 238h6v1h-6zM783 239h5v1h-5zM788 240h5v1h-5zM793 241h6v1h-6zM799 242h5v1h-5zM804 243h5v1h-5zM809 244h5v1h-5zM814 245h5v1h-5zM819 246h2v1h-2zM821 247h2v1h-2zM823 248h3v1h-3zM826 249h5v1h-5zM831 250h5v1h-5zM836 251h5v1h-5zM841 252h7v1h-7zM848 253h7v1h-7zM855 254h7v1h-7zM862 255h11v1h-11zM873 256h5v1h-5zM878 257h6v1h-6zM884 258h6v1h-6zM890 259h6v1h-6zM896 260h4v1h-4zM900 261h5v1h-5zM905 262h2v1h-2z" fill="#ff0000"/>
<rect x="3" y="246" width="1148" height="1" fill="#ff0000"/>
<rect x="3" y="256" width="1148" height="1" fill="#000080"/>
<rect x="3" y="305" width="1148" height="1" fill="#000080"/>
<rect x="835" y="203" width="316" height="1" fill="#4b0082"/>
<rect x="3" y="246" width="1148" height="1" fill="#ff0000"/>
<rect x="835" y="273" width="316" height="1" fill="#4b0082"/>
<rect x="163" y="311" width="988" height="1" fill="#4b0082"/>
<path d="M163 92h1v1h-1zM164 93h1v1h-1zM165 94h1v1h-1zM169 97h1v1h-1zM170 98h1v1h-1zM171 99h1v1h-1zM175 102h1v1h-1zM176 103h1v1h-1zM177 104h1v1h-1zM181 107h1v1h-1zM182 108h1v1h-1zM183 109h1v1h-1zM187 112h1v1h-1zM188 113h1v1h-1zM189 114h1v1h-1zM193 117h1v1h-1zM194 118h1v1h-1zM195 119h1v1h-1zM199 122h1v1h-1zM200 123h1v1h-1zM201 124h1v1h-1zM205 127h1v1h-1zM206 128h1v1h-1zM207 129h1v1h-1zM211 133h2v1h-2zM213 134h1v1h-1zM217 138h2v1h-2zM219 139h1v1h-1zM223 143h1v1h-1zM224 144h2v1h-2zM229 148h1v1h-1zM230 149h2v1h-2zM235 153h1v1h-1zM236 154h1v1h-1zM237 155h1v1h-1zM241 158h1v1h-1zM242 159h1v1h-1zM243 160h1v1h-1zM247 163h1v1h-1zM248 164h1v1h-1zM249 165h1v1h-1zM253 168h1v1h-1zM254 169h1v1h-1zM255 170h1v1h-1zM259 173h1v1h-1zM260 174h1v1h-1zM261 175h1v1h-1zM265 178h1v1h-1zM266 179h1v1h-1zM267 180h1v1h-1zM271 183h1v1h-1zM272 184h1v1h-1zM273 185h1v1h-1zM277 188h1v1h-1zM278 189h1v1h-1zM279 190h1v1h-1zM283 193h1v1h-1zM284 194h1v1h-1zM285 195h1v1h-1zM289 198h1v1h-1zM290 199h1v1h-1zM291 200h1v1h-1zM295 204h2v1h-2zM297 205h1v1h-1zM519 207h3v1h-3zM301 209h2v1h-2zM513 209h3v1h-3zM303 210h1v1h-1zM508 211h2v1h-2zM507 212h1v1h-1zM502 213h2v1h-2zM307 214h1v1h-1zM501 214h1v1h-1zM308 215h2v1h-2zM496 215h2v1h-2zM495 216h1v1h-1zM490 217h2v1h-2zM489 218h1v1h-1zM313 219h1v1h-1zM484 219h2v1h-2zM314 220h2v1h-2zM483 220h1v1h-1zM478 221h2v1h-2zM477 222h1v1h-1zM473 223h1v1h-1zM319 224h1v1h-1zM471 224h2v1h-2zM320 225h1v1h-1zM467 225h1v1h-1zM321 226h1v1h-1zM465 226h2v1h-2zM461 227h1v1h-1zM459 228h2v1h-2zM325 229h1v1h-1zM455 229h1v1h-1zM326 230h1v1h-1zM453 230h2v1h-2zM327 231h1v1h-1zM449 231h1v1h-1zM447 232h2v1h-2zM331 234h1v1h-1zM441 234h3v1h-3zM332 235h1v1h-1zM333 236h1v1h-1zM435 236h3v1h-3zM429 238h3v1h-3zM337 239h1v1h-1zM338 240h1v1h-1zM423 240h3v1h-3zM339 241h1v1h-1zM417 242h3v1h-3zM343 244h1v1h-1zM412 244h2v1h-2zM344 245h1v1h-1zM411 245h1v1h-1zM345 246h1v1h-1zM406 246h2v1h-2zM405 247h1v1h-1zM400 248h2v1h-2zM349 249h1v1h-1zM399 249h1v1h-1zM350 250h1v1h-1zM394 250h2v1h-2zM351 251h1v1h-1zM393 251h1v1h-1zM388 252h2v1h-2zM387 253h1v1h-1zM355 254h1v1h-1zM382 254h2v1h-2zM356 255h1v1h-1zM381 255h1v1h-1zM357 256h1v1h-1zM377 256h1v1h-1zM375 257h2v1h-2zM371 258h1v1h-1zM361 259h1v1h-1zM369 259h2v1h-2zM362 260h1v1h-1zM365 260h1v1h-1zM363 261h2v1h-2z" fill="#ff0000"/>
<path d="M875 279h1v1h-1zM875 280h1v1h-1zM874 281h1v1h-1zM876 281h1v1h-1zM873 282h1v1h-1zM873 283h1v1h-1zM878 285h1v1h-1zM878 286h1v1h-1zM870 287h1v1h-1zM878 287h1v1h-1zM870 288h1v1h-1zM869 289h1v1h-1zM880 291h1v1h-1zM881 292h1v1h-1zM867 293h1v1h-1zM881 293h1v1h-1zM866 294h1v1h-1zM866 295h1v1h-1zM883 297h1v1h-1zM883 298h1v1h-1zM864 299h1v1h-1zM884 299h1v1h-1zM863 300h1v1h-1zM862 301h1v1h-1zM885 303h1v1h-1zM886 304h1v1h-1zM860 305h1v1h-1zM886 305h1v1h-1zM860 306h1v1h-1zM859 307h1v1h-1zM888 309h1v1h-1zM888 310h1v1h-1zM857 311h1v1h-1zM889 311h1v1h-1zM856 312h1v1h-1zM856 313h1v1h-1zM891 315h1v1h-1zM891 316h1v1h-1zM853 317h1v1h-1zM853 318h1v1h-1zM852 319h1v1h-1zM850 323h1v1h-1zM849 324h1v1h-1zM849 325h1v1h-1zM846 329h1v1h-1zM846 330h1v1h-1zM845 331h1v1h-1zM843 335h1v1h-1zM842 336h1v1h-1zM842 337h1v1h-1zM840 341h1v1h-1zM839 342h1v1h-1zM838 343h1v1h-1zM836 347h1v1h-1zM836 348h1v1h-1zM835 349h1v1h-1z" fill="#ff0000"/>
<rect x="835" y="346" width="3" height="1" fill="#ff0000"/>
<rect x="833" y="347" width="1" height="4" fill="#ff0000"/>
<rect x="837" y="347" width="1" height="4" fill="#ff0000"/>
<rect x="875" y="276" width="3" height="1" fill="#ff0000"/>
<rect x="873" y="279" width="1" height="3" fill="#ff0000"/>
<rect x="878" y="278" width="1" height="2" fill="#ff0000"/>
<rect x="891" y="314" width="3" height="1" fill="#ff0000"/>
<rect x="889" y="316" width="1" height="3" fill="#ff0000"/>
<rect x="893" y="316" width="1" height="3" fill="#ff0000"/>
<path d="M811 397h2v1h-2zM813 398h1v1h-1zM808 399h1v1h-1zM663 400h2v1h-2zM807 400h1v1h-1zM358 401h3v1h-3zM364 401h2v1h-2zM662 401h1v1h-1zM668 401h2v1h-2zM806 401h1v1h-1zM347 402h2v1h-2zM366 402h1v1h-1zM670 402h1v1h-1zM817 402h1v1h-1zM346 403h1v1h-1zM352 403h3v1h-3zM658 403h1v1h-1zM818 403h1v1h-1zM657 404h1v1h-1zM674 404h2v1h-2zM779 404h1v1h-1zM819 404h1v1h-1zM370 405h2v1h-2zM656 405h1v1h-1zM676 405h1v1h-1zM778 405h2v1h-2zM802 405h1v1h-1zM372 406h1v1h-1zM801 406h1v1h-1zM822 406h2v1h-2zM342 407h1v1h-1zM654 407h1v1h-1zM680 407h2v1h-2zM783 407h1v1h-1zM800 407h1v1h-1zM824 407h1v1h-1zM282 408h1v1h-1zM341 408h1v1h-1zM395 408h1v1h-1zM653 408h1v1h-1zM682 408h1v1h-1zM774 408h1v1h-1zM784 408h2v1h-2zM280 409h2v1h-2zM286 409h1v1h-1zM331 409h2v1h-2zM340 409h1v1h-1zM376 409h2v1h-2zM394 409h1v1h-1zM652 409h1v1h-1zM773 409h1v1h-1zM287 410h2v1h-2zM318 410h1v1h-1zM328 410h1v1h-1zM333 410h1v1h-1zM336 410h3v1h-3zM378 410h1v1h-1zM393 410h1v1h-1zM398 410h2v1h-2zM686 410h2v1h-2zM772 410h1v1h-1zM789 410h1v1h-1zM828 410h2v1h-2zM275 411h2v1h-2zM316 411h2v1h-2zM327 411h1v1h-1zM400 411h1v1h-1zM630 411h2v1h-2zM635 411h3v1h-3zM688 411h1v1h-1zM790 411h2v1h-2zM796 411h1v1h-1zM830 411h1v1h-1zM218 412h3v1h-3zM274 412h1v1h-1zM326 412h1v1h-1zM629 412h1v1h-1zM796 412h1v1h-1zM834 412h1v1h-1zM224 413h1v1h-1zM292 413h2v1h-2zM321 413h1v1h-1zM382 413h2v1h-2zM389 413h1v1h-1zM404 413h1v1h-1zM439 413h1v1h-1zM443 413h3v1h-3zM625 413h1v1h-1zM641 413h2v1h-2zM646 413h3v1h-3zM692 413h1v1h-1zM795 413h1v1h-1zM835 413h2v1h-2zM154 414h3v1h-3zM159 414h1v1h-1zM225 414h2v1h-2zM294 414h1v1h-1zM311 414h2v1h-2zM322 414h1v1h-1zM384 414h1v1h-1zM388 414h1v1h-1zM405 414h2v1h-2zM437 414h2v1h-2zM456 414h1v1h-1zM623 414h2v1h-2zM643 414h1v1h-1zM693 414h1v1h-1zM746 414h1v1h-1zM749 414h1v1h-1zM768 414h1v1h-1zM121 415h1v1h-1zM160 415h2v1h-2zM189 415h2v1h-2zM213 415h2v1h-2zM305 415h2v1h-2zM310 415h1v1h-1zM323 415h1v1h-1zM387 415h1v1h-1zM449 415h2v1h-2zM454 415h2v1h-2zM460 415h2v1h-2zM618 415h2v1h-2zM694 415h1v1h-1zM744 415h2v1h-2zM750 415h2v1h-2zM767 415h1v1h-1zM3 416h1v1h-1zM119 416h2v1h-2zM124 416h3v1h-3zM150 416h1v1h-1zM185 416h1v1h-1zM191 416h1v1h-1zM212 416h1v1h-1zM230 416h1v1h-1zM271 416h1v1h-1zM298 416h1v1h-1zM304 416h1v1h-1zM410 416h1v1h-1zM451 416h1v1h-1zM462 416h1v1h-1zM617 416h1v1h-1zM755 416h1v1h-1zM766 416h1v1h-1zM840 416h2v1h-2zM4 417h1v1h-1zM86 417h1v1h-1zM115 417h1v1h-1zM130 417h1v1h-1zM149 417h1v1h-1zM184 417h1v1h-1zM231 417h2v1h-2zM270 417h1v1h-1zM299 417h2v1h-2zM411 417h2v1h-2zM433 417h1v1h-1zM698 417h2v1h-2zM756 417h2v1h-2zM842 417h1v1h-1zM5 418h1v1h-1zM84 418h2v1h-2zM113 418h2v1h-2zM131 418h2v1h-2zM148 418h1v1h-1zM165 418h1v1h-1zM183 418h1v1h-1zM195 418h2v1h-2zM207 418h2v1h-2zM269 418h1v1h-1zM432 418h1v1h-1zM466 418h2v1h-2zM484 418h1v1h-1zM700 418h1v1h-1zM716 418h1v1h-1zM740 418h1v1h-1zM761 418h2v1h-2zM89 419h2v1h-2zM166 419h2v1h-2zM197 419h1v1h-1zM206 419h1v1h-1zM236 419h2v1h-2zM416 419h1v1h-1zM431 419h1v1h-1zM468 419h1v1h-1zM479 419h2v1h-2zM485 419h2v1h-2zM524 419h2v1h-2zM715 419h2v1h-2zM738 419h2v1h-2zM761 419h1v1h-1zM846 419h1v1h-1zM8 420h1v1h-1zM80 420h1v1h-1zM91 420h1v1h-1zM109 420h1v1h-1zM136 420h2v1h-2zM142 420h3v1h-3zM201 420h3v1h-3zM238 420h1v1h-1zM417 420h2v1h-2zM472 420h1v1h-1zM478 420h1v1h-1zM490 420h1v1h-1zM526 420h1v1h-1zM605 420h3v1h-3zM611 420h3v1h-3zM704 420h3v1h-3zM720 420h1v1h-1zM847 420h2v1h-2zM9 421h2v1h-2zM79 421h1v1h-1zM107 421h2v1h-2zM138 421h1v1h-1zM171 421h2v1h-2zM179 421h1v1h-1zM473 421h2v1h-2zM491 421h2v1h-2zM520 421h1v1h-1zM601 421h1v1h-1zM710 421h3v1h-3zM721 421h2v1h-2zM734 421h1v1h-1zM78 422h1v1h-1zM95 422h1v1h-1zM173 422h1v1h-1zM178 422h1v1h-1zM242 422h3v1h-3zM266 422h1v1h-1zM422 422h1v1h-1zM519 422h1v1h-1zM530 422h1v1h-1zM600 422h1v1h-1zM726 422h3v1h-3zM732 422h2v1h-2zM852 422h2v1h-2zM885 422h3v1h-3zM891 422h3v1h-3zM14 423h3v1h-3zM96 423h2v1h-2zM102 423h2v1h-2zM177 423h1v1h-1zM265 423h1v1h-1zM423 423h2v1h-2zM428 423h1v1h-1zM496 423h1v1h-1zM516 423h1v1h-1zM518 423h1v1h-1zM531 423h2v1h-2zM599 423h1v1h-1zM854 423h1v1h-1zM101 424h1v1h-1zM248 424h2v1h-2zM265 424h1v1h-1zM427 424h1v1h-1zM497 424h2v1h-2zM514 424h2v1h-2zM858 424h2v1h-2zM881 424h2v1h-2zM897 424h3v1h-3zM20 425h3v1h-3zM74 425h1v1h-1zM250 425h1v1h-1zM426 425h1v1h-1zM536 425h3v1h-3zM860 425h1v1h-1zM881 425h1v1h-1zM26 426h2v1h-2zM72 426h2v1h-2zM254 426h1v1h-1zM502 426h2v1h-2zM510 426h1v1h-1zM542 426h3v1h-3zM864 426h2v1h-2zM903 426h1v1h-1zM28 427h1v1h-1zM255 427h2v1h-2zM261 427h1v1h-1zM504 427h1v1h-1zM508 427h2v1h-2zM548 427h3v1h-3zM595 427h1v1h-1zM866 427h1v1h-1zM904 427h2v1h-2zM32 428h3v1h-3zM68 428h1v1h-1zM260 428h1v1h-1zM554 428h1v1h-1zM594 428h1v1h-1zM870 428h2v1h-2zM876 428h2v1h-2zM56 429h3v1h-3zM61 429h3v1h-3zM67 429h2v1h-2zM260 429h1v1h-1zM555 429h2v1h-2zM593 429h1v1h-1zM872 429h1v1h-1zM875 429h1v1h-1zM38 430h3v1h-3zM50 430h3v1h-3zM560 430h2v1h-2zM44 431h3v1h-3zM562 431h1v1h-1zM566 432h3v1h-3zM572 433h2v1h-2zM590 433h1v1h-1zM574 434h1v1h-1zM589 434h1v1h-1zM578 435h3v1h-3zM586 435h1v1h-1zM584 436h2v1h-2z" fill="#f5deb3"/>
<path d="M44 410h1v1h-1zM511 410h1v1h-1zM582 410h3v1h-3zM588 410h2v1h-2zM43 411h2v1h-2zM509 411h2v1h-2zM577 411h2v1h-2zM590 411h1v1h-1zM505 412h1v1h-1zM576 412h1v1h-1zM899 412h3v1h-3zM25 413h3v1h-3zM39 413h1v1h-1zM48 413h2v1h-2zM504 413h1v1h-1zM514 413h1v1h-1zM594 413h1v1h-1zM905 413h1v1h-1zM20 414h2v1h-2zM31 414h1v1h-1zM37 414h2v1h-2zM50 414h1v1h-1zM504 414h1v1h-1zM515 414h2v1h-2zM571 414h2v1h-2zM595 414h2v1h-2zM906 414h2v1h-2zM19 415h1v1h-1zM32 415h2v1h-2zM554 415h3v1h-3zM559 415h3v1h-3zM570 415h1v1h-1zM54 416h2v1h-2zM193 416h1v1h-1zM565 416h2v1h-2zM897 416h1v1h-1zM56 417h1v1h-1zM192 417h2v1h-2zM197 417h3v1h-3zM520 417h1v1h-1zM565 417h1v1h-1zM600 417h1v1h-1zM896 417h1v1h-1zM92 418h3v1h-3zM130 418h1v1h-1zM175 418h3v1h-3zM202 418h1v1h-1zM500 418h2v1h-2zM521 418h2v1h-2zM538 418h1v1h-1zM549 418h2v1h-2zM601 418h2v1h-2zM870 418h3v1h-3zM875 418h2v1h-2zM895 418h1v1h-1zM3 419h2v1h-2zM15 419h1v1h-1zM60 419h2v1h-2zM97 419h2v1h-2zM130 419h1v1h-1zM134 419h2v1h-2zM170 419h2v1h-2zM181 419h3v1h-3zM203 419h1v1h-1zM499 419h1v1h-1zM526 419h2v1h-2zM533 419h2v1h-2zM538 419h2v1h-2zM543 419h1v1h-1zM548 419h1v1h-1zM866 419h1v1h-1zM877 419h1v1h-1zM5 420h1v1h-1zM14 420h1v1h-1zM62 420h1v1h-1zM88 420h1v1h-1zM99 420h1v1h-1zM129 420h1v1h-1zM136 420h1v1h-1zM169 420h1v1h-1zM204 420h1v1h-1zM528 420h1v1h-1zM532 420h1v1h-1zM544 420h2v1h-2zM606 420h3v1h-3zM864 420h2v1h-2zM894 420h1v1h-1zM13 421h1v1h-1zM88 421h1v1h-1zM140 421h1v1h-1zM187 421h2v1h-2zM495 421h1v1h-1zM853 421h2v1h-2zM858 421h3v1h-3zM881 421h2v1h-2zM893 421h1v1h-1zM66 422h2v1h-2zM87 422h1v1h-1zM103 422h2v1h-2zM141 422h2v1h-2zM188 422h1v1h-1zM208 422h3v1h-3zM493 422h2v1h-2zM612 422h3v1h-3zM852 422h1v1h-1zM883 422h1v1h-1zM892 422h1v1h-1zM9 423h2v1h-2zM68 423h1v1h-1zM105 423h1v1h-1zM165 423h1v1h-1zM469 423h3v1h-3zM887 423h3v1h-3zM11 424h1v1h-1zM72 424h1v1h-1zM126 424h1v1h-1zM146 424h2v1h-2zM164 424h2v1h-2zM214 424h2v1h-2zM489 424h1v1h-1zM618 424h1v1h-1zM848 424h1v1h-1zM73 425h2v1h-2zM109 425h2v1h-2zM126 425h1v1h-1zM148 425h1v1h-1zM216 425h1v1h-1zM238 425h1v1h-1zM427 425h1v1h-1zM466 425h1v1h-1zM475 425h2v1h-2zM487 425h2v1h-2zM619 425h2v1h-2zM847 425h1v1h-1zM84 426h1v1h-1zM111 426h1v1h-1zM125 426h1v1h-1zM238 426h2v1h-2zM248 426h1v1h-1zM426 426h2v1h-2zM465 426h1v1h-1zM477 426h1v1h-1zM846 426h1v1h-1zM78 427h2v1h-2zM83 427h1v1h-1zM115 427h2v1h-2zM122 427h2v1h-2zM152 427h3v1h-3zM158 427h3v1h-3zM220 427h3v1h-3zM232 427h3v1h-3zM248 427h2v1h-2zM431 427h2v1h-2zM464 427h1v1h-1zM481 427h1v1h-1zM624 427h2v1h-2zM642 427h3v1h-3zM708 427h1v1h-1zM80 428h1v1h-1zM82 428h1v1h-1zM117 428h1v1h-1zM121 428h1v1h-1zM226 428h3v1h-3zM243 428h2v1h-2zM253 428h2v1h-2zM433 428h1v1h-1zM482 428h2v1h-2zM626 428h1v1h-1zM638 428h1v1h-1zM648 428h2v1h-2zM707 428h1v1h-1zM711 428h2v1h-2zM717 428h3v1h-3zM722 428h3v1h-3zM728 428h2v1h-2zM841 428h2v1h-2zM243 429h1v1h-1zM255 429h1v1h-1zM437 429h3v1h-3zM462 429h1v1h-1zM630 429h3v1h-3zM636 429h2v1h-2zM650 429h1v1h-1zM673 429h1v1h-1zM706 429h1v1h-1zM713 429h1v1h-1zM730 429h1v1h-1zM840 429h1v1h-1zM259 430h3v1h-3zM421 430h2v1h-2zM443 430h3v1h-3zM461 430h1v1h-1zM654 430h3v1h-3zM672 430h2v1h-2zM677 430h3v1h-3zM683 430h3v1h-3zM734 430h1v1h-1zM837 430h1v1h-1zM265 431h1v1h-1zM420 431h1v1h-1zM460 431h1v1h-1zM660 431h3v1h-3zM735 431h2v1h-2zM836 431h1v1h-1zM266 432h2v1h-2zM449 432h3v1h-3zM668 432h1v1h-1zM689 432h1v1h-1zM702 432h1v1h-1zM740 432h3v1h-3zM764 432h3v1h-3zM835 432h1v1h-1zM271 433h3v1h-3zM301 433h1v1h-1zM325 433h2v1h-2zM455 433h3v1h-3zM666 433h2v1h-2zM690 433h2v1h-2zM695 433h2v1h-2zM701 433h1v1h-1zM746 433h3v1h-3zM759 433h2v1h-2zM770 433h1v1h-1zM277 434h3v1h-3zM295 434h3v1h-3zM302 434h2v1h-2zM319 434h3v1h-3zM327 434h1v1h-1zM697 434h1v1h-1zM700 434h1v1h-1zM752 434h3v1h-3zM758 434h1v1h-1zM771 434h2v1h-2zM283 435h3v1h-3zM307 435h3v1h-3zM331 435h3v1h-3zM416 435h1v1h-1zM776 435h3v1h-3zM289 436h3v1h-3zM313 436h3v1h-3zM337 436h3v1h-3zM379 436h2v1h-2zM414 436h2v1h-2zM782 436h3v1h-3zM788 436h3v1h-3zM831 436h1v1h-1zM343 437h3v1h-3zM378 437h1v1h-1zM384 437h2v1h-2zM794 437h3v1h-3zM800 437h2v1h-2zM830 437h1v1h-1zM349 438h3v1h-3zM386 438h1v1h-1zM390 438h1v1h-1zM802 438h1v1h-1zM806 438h2v1h-2zM829 438h1v1h-1zM355 439h3v1h-3zM374 439h1v1h-1zM391 439h2v1h-2zM396 439h3v1h-3zM408 439h3v1h-3zM808 439h1v1h-1zM812 439h3v1h-3zM361 440h3v1h-3zM367 440h2v1h-2zM372 440h2v1h-2zM402 440h3v1h-3zM818 440h3v1h-3zM825 440h1v1h-1zM368 441h1v1h-1zM824 441h2v1h-2z" fill="#9acd32"/>
<path d="M406 366h7v1h-7zM400 367h6v1h-6zM413 367h2v1h-2zM397 368h3v1h-3zM415 368h2v1h-2zM393 369h4v1h-4zM417 369h1v1h-1zM827 369h1v1h-1zM389 370h4v1h-4zM418 370h2v1h-2zM826 370h2v1h-2zM374 371h15v1h-15zM420 371h1v1h-1zM824 371h2v1h-2zM828 371h2v1h-2zM370 372h4v1h-4zM421 372h1v1h-1zM823 372h1v1h-1zM830 372h1v1h-1zM369 373h1v1h-1zM421 373h1v1h-1zM821 373h2v1h-2zM831 373h2v1h-2zM368 374h1v1h-1zM422 374h1v1h-1zM820 374h1v1h-1zM833 374h1v1h-1zM366 375h2v1h-2zM423 375h1v1h-1zM818 375h2v1h-2zM834 375h2v1h-2zM365 376h1v1h-1zM424 376h1v1h-1zM816 376h2v1h-2zM836 376h1v1h-1zM364 377h1v1h-1zM425 377h1v1h-1zM814 377h2v1h-2zM837 377h2v1h-2zM362 378h2v1h-2zM425 378h1v1h-1zM813 378h1v1h-1zM839 378h2v1h-2zM361 379h1v1h-1zM426 379h1v1h-1zM811 379h2v1h-2zM841 379h1v1h-1zM359 380h2v1h-2zM427 380h2v1h-2zM810 380h1v1h-1zM842 380h2v1h-2zM357 381h2v1h-2zM429 381h2v1h-2zM808 381h2v1h-2zM844 381h1v1h-1zM356 382h1v1h-1zM431 382h1v1h-1zM807 382h1v1h-1zM845 382h1v1h-1zM354 383h2v1h-2zM432 383h2v1h-2zM805 383h2v1h-2zM846 383h1v1h-1zM353 384h1v1h-1zM434 384h3v1h-3zM804 384h1v1h-1zM847 384h1v1h-1zM351 385h2v1h-2zM437 385h4v1h-4zM802 385h2v1h-2zM848 385h1v1h-1zM349 386h2v1h-2zM441 386h4v1h-4zM800 386h2v1h-2zM849 386h1v1h-1zM348 387h1v1h-1zM445 387h4v1h-4zM454 387h6v1h-6zM798 387h2v1h-2zM850 387h1v1h-1zM346 388h2v1h-2zM449 388h5v1h-5zM460 388h1v1h-1zM796 388h2v1h-2zM851 388h1v1h-1zM344 389h2v1h-2zM461 389h1v1h-1zM793 389h3v1h-3zM852 389h1v1h-1zM342 390h2v1h-2zM462 390h2v1h-2zM791 390h2v1h-2zM853 390h1v1h-1zM340 391h2v1h-2zM464 391h1v1h-1zM788 391h3v1h-3zM854 391h1v1h-1zM337 392h3v1h-3zM465 392h1v1h-1zM785 392h3v1h-3zM855 392h1v1h-1zM333 393h4v1h-4zM466 393h1v1h-1zM783 393h2v1h-2zM856 393h1v1h-1zM330 394h3v1h-3zM467 394h2v1h-2zM781 394h2v1h-2zM857 394h1v1h-1zM327 395h3v1h-3zM469 395h2v1h-2zM779 395h2v1h-2zM858 395h2v1h-2zM324 396h3v1h-3zM471 396h1v1h-1zM694 396h6v1h-6zM777 396h2v1h-2zM860 396h3v1h-3zM320 397h4v1h-4zM472 397h2v1h-2zM686 397h8v1h-8zM700 397h3v1h-3zM775 397h2v1h-2zM863 397h3v1h-3zM315 398h5v1h-5zM474 398h2v1h-2zM680 398h6v1h-6zM703 398h2v1h-2zM774 398h1v1h-1zM866 398h6v1h-6zM313 399h2v1h-2zM476 399h2v1h-2zM675 399h5v1h-5zM705 399h2v1h-2zM772 399h2v1h-2zM872 399h4v1h-4zM312 400h1v1h-1zM478 400h2v1h-2zM671 400h4v1h-4zM707 400h3v1h-3zM769 400h3v1h-3zM876 400h3v1h-3zM310 401h2v1h-2zM480 401h2v1h-2zM667 401h4v1h-4zM710 401h3v1h-3zM764 401h5v1h-5zM879 401h2v1h-2zM308 402h2v1h-2zM482 402h2v1h-2zM665 402h2v1h-2zM713 402h3v1h-3zM753 402h11v1h-11zM881 402h1v1h-1zM306 403h2v1h-2zM484 403h2v1h-2zM663 403h2v1h-2zM716 403h3v1h-3zM750 403h3v1h-3zM882 403h2v1h-2zM303 404h3v1h-3zM486 404h2v1h-2zM586 404h7v1h-7zM662 404h1v1h-1zM719 404h3v1h-3zM747 404h3v1h-3zM884 404h1v1h-1zM300 405h3v1h-3zM488 405h2v1h-2zM585 405h1v1h-1zM593 405h2v1h-2zM660 405h2v1h-2zM722 405h2v1h-2zM744 405h3v1h-3zM885 405h2v1h-2zM294 406h6v1h-6zM490 406h2v1h-2zM583 406h2v1h-2zM595 406h3v1h-3zM658 406h2v1h-2zM724 406h3v1h-3zM740 406h4v1h-4zM887 406h1v1h-1zM290 407h4v1h-4zM492 407h2v1h-2zM581 407h2v1h-2zM598 407h2v1h-2zM657 407h1v1h-1zM727 407h2v1h-2zM735 407h5v1h-5zM888 407h2v1h-2zM289 408h1v1h-1zM494 408h2v1h-2zM580 408h1v1h-1zM600 408h2v1h-2zM655 408h2v1h-2zM729 408h6v1h-6zM890 408h1v1h-1zM287 409h2v1h-2zM496 409h2v1h-2zM503 409h10v1h-10zM578 409h2v1h-2zM602 409h1v1h-1zM653 409h2v1h-2zM891 409h6v1h-6zM285 410h2v1h-2zM498 410h5v1h-5zM513 410h2v1h-2zM577 410h1v1h-1zM603 410h2v1h-2zM652 410h1v1h-1zM897 410h11v1h-11zM46 411h13v1h-13zM284 411h1v1h-1zM515 411h1v1h-1zM575 411h2v1h-2zM605 411h1v1h-1zM649 411h3v1h-3zM42 412h4v1h-4zM59 412h6v1h-6zM283 412h1v1h-1zM516 412h2v1h-2zM574 412h1v1h-1zM606 412h2v1h-2zM634 412h4v1h-4zM646 412h3v1h-3zM40 413h2v1h-2zM65 413h4v1h-4zM282 413h1v1h-1zM518 413h2v1h-2zM572 413h2v1h-2zM608 413h1v1h-1zM631 413h3v1h-3zM638 413h8v1h-8zM3 414h1v1h-1zM38 414h2v1h-2zM69 414h2v1h-2zM280 414h2v1h-2zM520 414h1v1h-1zM571 414h1v1h-1zM609 414h2v1h-2zM628 414h3v1h-3zM4 415h3v1h-3zM36 415h2v1h-2zM71 415h2v1h-2zM279 415h1v1h-1zM521 415h2v1h-2zM569 415h2v1h-2zM611 415h4v1h-4zM625 415h3v1h-3zM7 416h3v1h-3zM31 416h5v1h-5zM73 416h2v1h-2zM278 416h1v1h-1zM523 416h2v1h-2zM566 416h3v1h-3zM615 416h10v1h-10zM10 417h6v1h-6zM25 417h6v1h-6zM75 417h12v1h-12zM277 417h1v1h-1zM525 417h2v1h-2zM564 417h2v1h-2zM16 418h9v1h-9zM87 418h4v1h-4zM276 418h1v1h-1zM527 418h1v1h-1zM561 418h3v1h-3zM91 419h4v1h-4zM275 419h1v1h-1zM528 419h2v1h-2zM558 419h3v1h-3zM95 420h4v1h-4zM274 420h1v1h-1zM530 420h12v1h-12zM554 420h4v1h-4zM99 421h3v1h-3zM121 421h5v1h-5zM273 421h1v1h-1zM542 421h12v1h-12zM102 422h3v1h-3zM117 422h4v1h-4zM126 422h5v1h-5zM272 422h1v1h-1zM547 422h1v1h-1zM105 423h12v1h-12zM131 423h3v1h-3zM271 423h1v1h-1zM134 424h2v1h-2zM154 424h13v1h-13zM269 424h2v1h-2zM136 425h3v1h-3zM151 425h3v1h-3zM167 425h3v1h-3zM225 425h22v1h-22zM268 425h1v1h-1zM139 426h5v1h-5zM148 426h3v1h-3zM170 426h18v1h-18zM221 426h4v1h-4zM247 426h4v1h-4zM266 426h2v1h-2zM144 427h4v1h-4zM188 427h5v1h-5zM218 427h3v1h-3zM251 427h4v1h-4zM263 427h3v1h-3zM193 428h4v1h-4zM216 428h2v1h-2zM255 428h8v1h-8zM197 429h5v1h-5zM213 429h3v1h-3zM259 429h1v1h-1zM202 430h11v1h-11z" fill="#20b2aa"/>
<path d="M3 451h3v1h-3zM9 451h2v1h-2zM11 452h1v1h-1zM15 452h3v1h-3zM21 453h3v1h-3zM27 454h3v1h-3zM33 455h3v1h-3zM39 455h1v1h-1zM40 456h2v1h-2zM45 456h3v1h-3zM51 457h3v1h-3zM250 457h1v1h-1zM254 457h3v1h-3zM260 457h3v1h-3zM266 457h2v1h-2zM57 458h3v1h-3zM63 458h3v1h-3zM99 458h2v1h-2zM104 458h3v1h-3zM110 458h3v1h-3zM116 458h3v1h-3zM122 458h3v1h-3zM128 458h3v1h-3zM134 458h3v1h-3zM140 458h3v1h-3zM146 458h3v1h-3zM152 458h3v1h-3zM158 458h3v1h-3zM164 458h3v1h-3zM170 458h3v1h-3zM176 458h3v1h-3zM182 458h3v1h-3zM188 458h3v1h-3zM194 458h3v1h-3zM200 458h3v1h-3zM206 458h3v1h-3zM212 458h3v1h-3zM218 458h3v1h-3zM224 458h3v1h-3zM230 458h3v1h-3zM236 458h3v1h-3zM242 458h3v1h-3zM248 458h2v1h-2zM268 458h1v1h-1zM272 458h3v1h-3zM278 458h1v1h-1zM69 459h3v1h-3zM75 459h3v1h-3zM93 459h2v1h-2zM98 459h1v1h-1zM279 459h2v1h-2zM284 459h1v1h-1zM81 460h3v1h-3zM87 460h2v1h-2zM92 460h1v1h-1zM285 460h2v1h-2zM88 461h1v1h-1zM290 461h3v1h-3zM296 462h1v1h-1zM297 463h2v1h-2zM302 464h3v1h-3zM308 465h2v1h-2zM310 466h1v1h-1zM314 467h1v1h-1zM315 468h2v1h-2zM320 469h1v1h-1zM321 470h2v1h-2zM326 472h2v1h-2zM609 472h2v1h-2zM614 472h3v1h-3zM620 472h3v1h-3zM626 472h3v1h-3zM632 472h3v1h-3zM638 472h3v1h-3zM644 472h3v1h-3zM328 473h1v1h-1zM608 473h1v1h-1zM650 473h3v1h-3zM332 474h1v1h-1zM602 474h3v1h-3zM656 474h3v1h-3zM333 475h2v1h-2zM596 475h3v1h-3zM662 475h3v1h-3zM590 476h3v1h-3zM668 476h1v1h-1zM338 477h3v1h-3zM585 477h2v1h-2zM669 477h2v1h-2zM584 478h1v1h-1zM674 478h3v1h-3zM344 479h2v1h-2zM578 479h3v1h-3zM680 479h2v1h-2zM346 480h1v1h-1zM573 480h2v1h-2zM682 480h1v1h-1zM350 481h1v1h-1zM572 481h1v1h-1zM686 481h3v1h-3zM351 482h2v1h-2zM566 482h3v1h-3zM692 482h1v1h-1zM561 483h2v1h-2zM693 483h2v1h-2zM356 484h2v1h-2zM560 484h1v1h-1zM698 484h3v1h-3zM358 485h1v1h-1zM555 485h2v1h-2zM704 485h3v1h-3zM554 486h1v1h-1zM710 486h3v1h-3zM362 487h2v1h-2zM548 487h3v1h-3zM716 487h3v1h-3zM364 488h1v1h-1zM544 488h1v1h-1zM722 488h3v1h-3zM368 489h1v1h-1zM542 489h2v1h-2zM728 489h3v1h-3zM734 489h1v1h-1zM369 490h2v1h-2zM536 490h3v1h-3zM735 490h2v1h-2zM740 490h3v1h-3zM374 491h1v1h-1zM746 491h3v1h-3zM375 492h2v1h-2zM530 492h3v1h-3zM752 492h3v1h-3zM903 492h2v1h-2zM380 493h1v1h-1zM758 493h3v1h-3zM764 493h3v1h-3zM902 493h1v1h-1zM381 494h2v1h-2zM524 494h3v1h-3zM770 494h3v1h-3zM897 494h2v1h-2zM386 495h1v1h-1zM776 495h3v1h-3zM782 495h1v1h-1zM896 495h1v1h-1zM387 496h2v1h-2zM518 496h3v1h-3zM783 496h2v1h-2zM890 496h3v1h-3zM513 497h2v1h-2zM788 497h3v1h-3zM392 498h2v1h-2zM512 498h1v1h-1zM794 498h3v1h-3zM885 498h2v1h-2zM394 499h1v1h-1zM506 499h3v1h-3zM800 499h3v1h-3zM806 499h1v1h-1zM884 499h1v1h-1zM398 500h2v1h-2zM501 500h2v1h-2zM807 500h2v1h-2zM878 500h3v1h-3zM400 501h1v1h-1zM500 501h1v1h-1zM812 501h3v1h-3zM872 501h3v1h-3zM404 502h2v1h-2zM494 502h3v1h-3zM818 502h3v1h-3zM862 502h1v1h-1zM866 502h3v1h-3zM406 503h1v1h-1zM410 503h1v1h-1zM488 503h3v1h-3zM824 503h3v1h-3zM830 503h1v1h-1zM854 503h3v1h-3zM860 503h2v1h-2zM411 504h2v1h-2zM416 504h3v1h-3zM482 504h3v1h-3zM831 504h2v1h-2zM836 504h3v1h-3zM842 504h3v1h-3zM848 504h3v1h-3zM422 505h3v1h-3zM470 505h3v1h-3zM476 505h3v1h-3zM428 506h3v1h-3zM464 506h3v1h-3zM434 507h3v1h-3zM440 507h3v1h-3zM446 507h3v1h-3zM452 507h3v1h-3zM458 507h3v1h-3z" fill="#ff0000"/>
<rect x="0" y="0" width="2" height="538" fill="#fff"/>
<rect x="1152" y="0" width="59" height="538" fill="#fff"/>
<rect x="0" y="514" width="1211" height="24" fill="#fff"/>
<rect x="0" y="362" width="1211" height="1" fill="#fff"/>
<rect x="0" y="446" width="1211" height="1" fill="#fff"/>
<rect x="0" y="0" width="1211" height="2" fill="#fff"/>
<rect x="43" y="362" width="1" height="1" fill="#c0c0c0"/>
<rect x="43" y="446" width="1" height="1" fill="#c0c0c0"/>
<rect x="83" y="362" width="1" height="1" fill="#c0c0c0"/>
<rect x="83" y="446" width="1" height="1" fill="#c0c0c0"/>
<rect x="123" y="362" width="1" height="1" fill="#c0c0c0"/>
<rect x="123" y="446" width="1" height="1" fill="#c0c0c0"/>
<rect x="163" y="362" width="1" height="1" fill="#c0c0c0"/>
<rect x="163" y="446" width="1" height="1" fill="#c0c0c0"/>
<rect x="203" y="362" width="1" height="1" fill="#c0c0c0"/>
<rect x="203" y="446" width="1" height="1" fill="#c0c0c0"/>
<rect x="243" y="362" width="1" height="1" fill="#c0c0c0"/>
<rect x="243" y="446" width="1" height="1" fill="#c0c0c0"/>
<rect x="283" y="362" width="1" height="1" fill="#c0c0c0"/>
<rect x="283" y="446" width="1" height="1" fill="#c0c0c0"/>
<rect x="323" y="362" width="1" height="1" fill="#c0c0c0"/>
<rect x="323" y="446" width="1" height="1" fill="#c0c0c0"/>
<rect x="363" y="362" width="1" height="1" fill="#c0c0c0"/>
<rect x="363" y="446" width="1" height="1" fill="#c0c0c0"/>
<rect x="403" y="362" width="1" height="1" fill="#c0c0c0"/>
<rect x="403" y="446" width="1" height="1" fill="#c0c0c0"/>
<rect x="443" y="362" width="1" height="1" fill="#c0c0c0"/>
<rect x="443" y="446" width="1" height="1" fill="#c0c0c0"/>
<rect x="483" y="362" width="1" height="1" fill="#c0c0c0"/>
<rect x="483" y="446" width="1" height="1" fill="#c0c0c0"/>
<rect x="523" y="362" width="1" height="1" fill="#c0c0c0"/>
<rect x="523" y="446" width="1" height="1" fill="#c0c0c0"/>
<rect x="563" y="362" width="1" height="1" fill="#c0c0c0"/>
<rect x="563" y="446" width="1" height="1" fill="#c0c0c0"/>
<rect x="603" y="362" width="1" height="1" fill="#c0c0c0"/>
<rect x="603" y="446" width="1" height="1" fill="#c0c0c0"/>
<rect x="643" y="362" width="1" height="1" fill="#c0c0c0"/>
<rect x="643" y="446" width="1" height="1" fill="#c0c0c0"/>
<rect x="683" y="362" width="1" height="1" fill="#c0c0c0"/>
<rect x="683" y="446" width="1" height="1" fill="#c0c0c0"/>
<rect x="723" y="362" width="1" height="1" fill="#c0c0c0"/>
<rect x="723" y="446" width="1" height="1" fill="#c0c0c0"/>
<rect x="763" y="362" width="1" height="1" fill="#c0c0c0"/>
<rect x="763" y="446" width="1" height="1" fill="#c0c0c0"/>
<rect x="803" y="362" width="1" height="1" fill="#c0c0c0"/>
<rect x="803" y="446" width="1" height="1" fill="#c0c0c0"/>
<rect x="843" y="362" width="1" height="1" fill="#c0c0c0"/>
<rect x="843" y="446" width="1" height="1" fill="#c0c0c0"/>
<rect x="883" y="362" width="1" height="1" fill="#c0c0c0"/>
<rect x="883" y="446" width="1" height="1" fill="#c0c0c0"/>
<rect x="923" y="362" width="1" height="1" fill="#c0c0c0"/>
<rect x="923" y="446" width="1" height="1" fill="#c0c0c0"/>
<rect x="963" y="362" width="1" height="1" fill="#c0c0c0"/>
<rect x="963" y="446" width="1" height="1" fill="#c0c0c0"/>
<rect x="1003" y="362" width="1" height="1" fill="#c0c0c0"/>
<rect x="1003" y="446" width="1" height="1" fill="#c0c0c0"/>
<rect x="1043" y="362" width="1" height="1" fill="#c0c0c0"/>
<rect x="1043" y="446" width="1" height="1" fill="#c0c0c0"/>
<rect x="1083" y="362" width="1" height="1" fill="#c0c0c0"/>
<rect x="1083" y="446" width="1" height="1" fill="#c0c0c0"/>
<rect x="1123" y="362" width="1" height="1" fill="#c0c0c0"/>
<rect x="1123" y="446" width="1" height="1" fill="#c0c0c0"/>
<rect x="2" y="2" width="1150" height="1" fill="#000"/>
<rect x="2" y="361" width="1150" height="1" fill="#000"/>
<rect x="2" y="2" width="1" height="360" fill="#000"/>
<rect x="1151" y="2" width="1" height="360" fill="#000"/>
<rect x="2" y="363" width="1150" height="1" fill="#000"/>
<rect x="2" y="445" width="1150" height="1" fill="#000"/>
<rect x="2" y="363" width="1" height="83" fill="#000"/>
<rect x="1151" y="363" width="1" height="83" fill="#000"/>
<rect x="2" y="447" width="1150" height="1" fill="#000"/>
<rect x="2" y="513" width="1150" height="1" fill="#000"/>
<rect x="2" y="447" width="1" height="67" fill="#000"/>
<rect x="1151" y="447" width="1" height="67" fill="#000"/>
<rect x="1152" y="22" width="2" height="1" fill="#000"/>
<rect x="1152" y="63" width="2" height="1" fill="#000"/>
<rect x="1152" y="104" width="2" height="1" fill="#000"/>
<rect x="1152" y="145" width="2" height="1" fill="#000"/>
<rect x="1152" y="186" width="2" height="1" fill="#000"/>
<rect x="1152" y="227" width="2" height="1" fill="#000"/>
<rect x="1152" y="268" width="2" height="1" fill="#000"/>
<rect x="1152" y="309" width="2" height="1" fill="#000"/>
<rect x="1152" y="350" width="2" height="1" fill="#000"/>
<rect x="1152" y="384" width="2" height="1" fill="#000"/>
<rect x="1152" y="404" width="2" height="1" fill="#000"/>
<rect x="1152" y="424" width="2" height="1" fill="#000"/>
<rect x="1152" y="364" width="1" height="1" fill="#000"/>
<rect x="1152" y="444" width="1" height="1" fill="#000"/>
<rect x="1152" y="475" width="2" height="1" fill="#000"/>
<rect x="1152" y="448" width="1" height="1" fill="#000"/>
<rect x="1152" y="512" width="1" height="1" fill="#000"/>
<rect x="3" y="514" width="1" height="4" fill="#000"/>
<rect x="83" y="514" width="1" height="4" fill="#000"/>
<rect x="163" y="514" width="1" height="4" fill="#000"/>
<rect x="243" y="514" width="1" height="4" fill="#000"/>
<rect x="323" y="514" width="1" height="4" fill="#000"/>
<rect x="403" y="514" width="1" height="4" fill="#000"/>
<rect x="483" y="514" width="1" height="4" fill="#000"/>
<rect x="563" y="514" width="1" height="4" fill="#000"/>
<rect x="643" y="514" width="1" height="4" fill="#000"/>
<rect x="723" y="514" width="1" height="4" fill="#000"/>
<rect x="803" y="514" width="1" height="4" fill="#000"/>
<rect x="883" y="514" width="1" height="4" fill="#000"/>
<rect x="6" y="10" width="9" height="1" fill="#000"/>
<rect x="7" y="11" width="7" height="1" fill="#000"/>
<rect x="8" y="12" width="5" height="1" fill="#000"/>
<rect x="9" y="13" width="3" height="1" fill="#000"/>
<rect x="10" y="14" width="1" height="1" fill="#000"/>
<g id="labels">
<text x="21.42" y="17" font-size="12.5" fill="#000" textLength="85.28" lengthAdjust="spacingAndGlyphs">GBPNZD.m,Daily</text>
<text x="115.91" y="17" font-size="12.5" fill="#000" textLength="44.67" lengthAdjust="spacingAndGlyphs">2.22484</text>
<text x="165.91" y="17" font-size="12.5" fill="#000" textLength="44.67" lengthAdjust="spacingAndGlyphs">2.24664</text>
<text x="215.91" y="17" font-size="12.5" fill="#000" textLength="44.67" lengthAdjust="spacingAndGlyphs">2.22049</text>
<text x="265.91" y="17" font-size="12.5" fill="#000" textLength="44.67" lengthAdjust="spacingAndGlyphs">2.22903</text>
<text x="8.35" y="379" font-size="12.5" fill="#000" textLength="45.34" lengthAdjust="spacingAndGlyphs">ADX(14)</text>
<text x="57.81" y="379" font-size="12.5" fill="#000" textLength="44.57" lengthAdjust="spacingAndGlyphs">27.1991</text>
<text x="108.29" y="379" font-size="12.5" fill="#000" textLength="69.18" lengthAdjust="spacingAndGlyphs">+DI:23.9588</text>
<text x="181.49" y="379" font-size="12.5" fill="#000" textLength="65.84" lengthAdjust="spacingAndGlyphs">-DI:13.7093</text>
<text x="7.54" y="463" font-size="12.5" fill="#000" textLength="83.78" lengthAdjust="spacingAndGlyphs">MACD(12,26,9)</text>
<text x="97.42" y="463" font-size="12.5" fill="#000" textLength="55.19" lengthAdjust="spacingAndGlyphs">-0.006806</text>
<text x="158.32" y="463" font-size="12.5" fill="#000" textLength="54.25" lengthAdjust="spacingAndGlyphs">-0.016911</text>
<text x="1157.59" y="27" font-size="12.5" fill="#000" textLength="45.50" lengthAdjust="spacingAndGlyphs">2.51920</text>
<text x="1157.59" y="68" font-size="12.5" fill="#000" textLength="45.50" lengthAdjust="spacingAndGlyphs">2.47300</text>
<text x="1157.59" y="109" font-size="12.5" fill="#000" textLength="45.50" lengthAdjust="spacingAndGlyphs">2.42790</text>
<text x="1157.59" y="150" font-size="12.5" fill="#000" textLength="45.50" lengthAdjust="spacingAndGlyphs">2.38170</text>
<text x="1157.59" y="191" font-size="12.5" fill="#000" textLength="45.50" lengthAdjust="spacingAndGlyphs">2.33660</text>
<text x="1157.59" y="232" font-size="12.5" fill="#000" textLength="45.50" lengthAdjust="spacingAndGlyphs">2.29040</text>
<text x="1157.59" y="273" font-size="12.5" fill="#000" textLength="45.50" lengthAdjust="spacingAndGlyphs">2.24530</text>
<text x="1157.59" y="314" font-size="12.5" fill="#000" textLength="45.50" lengthAdjust="spacingAndGlyphs">2.19910</text>
<text x="1157.59" y="355" font-size="12.5" fill="#000" textLength="45.50" lengthAdjust="spacingAndGlyphs">2.15400</text>
<text x="1155.58" y="377" font-size="12.5" fill="#000" textLength="12.73" lengthAdjust="spacingAndGlyphs">61</text>
<text x="1156.50" y="398" font-size="12.5" fill="#000" textLength="11.82" lengthAdjust="spacingAndGlyphs">46</text>
<text x="1155.58" y="419" font-size="12.5" fill="#000" textLength="12.73" lengthAdjust="spacingAndGlyphs">31</text>
<text x="1155.58" y="439" font-size="12.5" fill="#000" textLength="12.73" lengthAdjust="spacingAndGlyphs">16</text>
<text x="1155.93" y="442" font-size="12.5" fill="#000" textLength="3.94" lengthAdjust="spacingAndGlyphs">1</text>
<text x="1156.00" y="461" font-size="12.5" fill="#000" textLength="51.14" lengthAdjust="spacingAndGlyphs">0.027286</text>
<text x="1156.50" y="480" font-size="12.5" fill="#000" textLength="22.82" lengthAdjust="spacingAndGlyphs">0.00</text>
<text x="1154.52" y="511" font-size="12.5" fill="#000" textLength="55.08" lengthAdjust="spacingAndGlyphs">-0.039803</text>
<text x="1.68" y="530" font-size="12.5" fill="#000" textLength="64.69" lengthAdjust="spacingAndGlyphs">7 Aug 2015</text>
<text x="81.57" y="530" font-size="12.5" fill="#000" textLength="72.36" lengthAdjust="spacingAndGlyphs">21 Aug 2015</text>
<text x="162.40" y="530" font-size="12.5" fill="#000" textLength="62.75" lengthAdjust="spacingAndGlyphs">4 Sep 2015</text>
<text x="241.90" y="530" font-size="12.5" fill="#000" textLength="70.80" lengthAdjust="spacingAndGlyphs">18 Sep 2015</text>
<text x="321.06" y="530" font-size="12.5" fill="#000" textLength="63.30" lengthAdjust="spacingAndGlyphs">2 Oct 2015</text>
<text x="401.57" y="530" font-size="12.5" fill="#000" textLength="69.94" lengthAdjust="spacingAndGlyphs">16 Oct 2015</text>
<text x="481.67" y="530" font-size="12.5" fill="#000" textLength="70.24" lengthAdjust="spacingAndGlyphs">30 Oct 2015</text>
<text x="561.69" y="530" font-size="12.5" fill="#000" textLength="71.70" lengthAdjust="spacingAndGlyphs">13 Nov 2015</text>
<text x="641.80" y="530" font-size="12.5" fill="#000" textLength="70.79" lengthAdjust="spacingAndGlyphs">27 Nov 2015</text>
<text x="721.89" y="530" font-size="12.5" fill="#000" textLength="70.88" lengthAdjust="spacingAndGlyphs">11 Dec 2015</text>
<text x="801.09" y="530" font-size="12.5" fill="#000" textLength="71.70" lengthAdjust="spacingAndGlyphs">28 Dec 2015</text>
<text x="881.59" y="530" font-size="12.5" fill="#000" textLength="69.43" lengthAdjust="spacingAndGlyphs">12 Jan 2016</text>
<text x="1101.04" y="201" font-size="12.5" fill="#4b0082" textLength="48.87" lengthAdjust="spacingAndGlyphs">FE 161.8</text>
<text x="1101.04" y="244" font-size="12.5" fill="#4b0082" textLength="48.87" lengthAdjust="spacingAndGlyphs">FE 100.0</text>
<text x="1107.94" y="271" font-size="12.5" fill="#4b0082" textLength="42.01" lengthAdjust="spacingAndGlyphs">FE 61.8</text>
<text x="1107.94" y="309" font-size="12.5" fill="#4b0082" textLength="42.01" lengthAdjust="spacingAndGlyphs">FE 61.8</text>
<text x="520" y="243" font-size="16" fill="#000">S1 Monthly Pivot</text>
<text x="528.3" y="296" font-size="16" fill="#000">S2 Monthly Pivot</text>
</g>
<g id="boxlabels">
<rect x="1153" y="250" width="56" height="14" fill="#000080"/>
<text x="1157.80" y="262" font-size="12.5" fill="#fff" textLength="45.39" lengthAdjust="spacingAndGlyphs">2.25778</text>
<rect x="1153" y="240" width="56" height="14" fill="#ff0000"/>
<text x="1157.80" y="252" font-size="12.5" fill="#fff" textLength="45.39" lengthAdjust="spacingAndGlyphs">2.26962</text>
<rect x="1153" y="275" width="56" height="14" fill="#000"/>
<text x="1157.80" y="287" font-size="12.5" fill="#fff" textLength="45.39" lengthAdjust="spacingAndGlyphs">2.22903</text>
<rect x="1153" y="299" width="56" height="14" fill="#000080"/>
<text x="1157.80" y="311" font-size="12.5" fill="#fff" textLength="45.39" lengthAdjust="spacingAndGlyphs">2.20384</text>
</g>
</svg>
</body></html>
